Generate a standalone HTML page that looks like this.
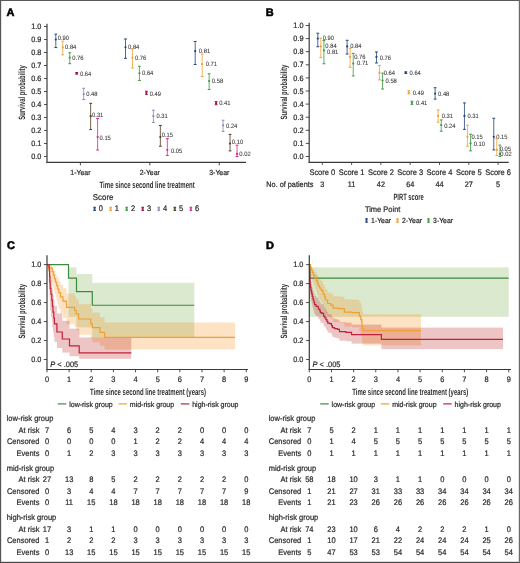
<!DOCTYPE html>
<html><head><meta charset="utf-8"><style>
html,body{margin:0;padding:0;background:#fff;}
svg{display:block;will-change:transform;}
svg text{font-family:"Liberation Sans", sans-serif;text-rendering:geometricPrecision;}
svg text.n{stroke:currentColor;}
</style></head><body>
<svg width="520" height="563" viewBox="0 0 520 563">
<rect width="520" height="563" fill="#fff"/>
<text x="6.60" y="15.80" font-size="11.00" text-anchor="start" fill="#000" font-weight="bold" stroke="#000" stroke-width="0.55" >A</text>
<line x1="47.00" y1="23.80" x2="47.00" y2="162.90" stroke="#3a3a3a" stroke-width="1.2" />
<line x1="46.40" y1="162.30" x2="246.00" y2="162.30" stroke="#3a3a3a" stroke-width="1.2" />
<line x1="44.00" y1="156.50" x2="47.00" y2="156.50" stroke="#3a3a3a" stroke-width="0.9" />
<text x="41.30" y="159.10" font-size="7.88" text-anchor="end" fill="#2a2a2a" font-weight="normal" stroke="#2a2a2a" stroke-width="0.22" textLength="10.15" lengthAdjust="spacingAndGlyphs" >0.0</text>
<line x1="44.00" y1="143.50" x2="47.00" y2="143.50" stroke="#3a3a3a" stroke-width="0.9" />
<text x="41.30" y="146.10" font-size="7.88" text-anchor="end" fill="#2a2a2a" font-weight="normal" stroke="#2a2a2a" stroke-width="0.22" textLength="10.15" lengthAdjust="spacingAndGlyphs" >0.1</text>
<line x1="44.00" y1="130.50" x2="47.00" y2="130.50" stroke="#3a3a3a" stroke-width="0.9" />
<text x="41.30" y="133.10" font-size="7.88" text-anchor="end" fill="#2a2a2a" font-weight="normal" stroke="#2a2a2a" stroke-width="0.22" textLength="10.15" lengthAdjust="spacingAndGlyphs" >0.2</text>
<line x1="44.00" y1="117.50" x2="47.00" y2="117.50" stroke="#3a3a3a" stroke-width="0.9" />
<text x="41.30" y="120.10" font-size="7.88" text-anchor="end" fill="#2a2a2a" font-weight="normal" stroke="#2a2a2a" stroke-width="0.22" textLength="10.15" lengthAdjust="spacingAndGlyphs" >0.3</text>
<line x1="44.00" y1="104.50" x2="47.00" y2="104.50" stroke="#3a3a3a" stroke-width="0.9" />
<text x="41.30" y="107.10" font-size="7.88" text-anchor="end" fill="#2a2a2a" font-weight="normal" stroke="#2a2a2a" stroke-width="0.22" textLength="10.15" lengthAdjust="spacingAndGlyphs" >0.4</text>
<line x1="44.00" y1="91.50" x2="47.00" y2="91.50" stroke="#3a3a3a" stroke-width="0.9" />
<text x="41.30" y="94.10" font-size="7.88" text-anchor="end" fill="#2a2a2a" font-weight="normal" stroke="#2a2a2a" stroke-width="0.22" textLength="10.15" lengthAdjust="spacingAndGlyphs" >0.5</text>
<line x1="44.00" y1="78.50" x2="47.00" y2="78.50" stroke="#3a3a3a" stroke-width="0.9" />
<text x="41.30" y="81.10" font-size="7.88" text-anchor="end" fill="#2a2a2a" font-weight="normal" stroke="#2a2a2a" stroke-width="0.22" textLength="10.15" lengthAdjust="spacingAndGlyphs" >0.6</text>
<line x1="44.00" y1="65.50" x2="47.00" y2="65.50" stroke="#3a3a3a" stroke-width="0.9" />
<text x="41.30" y="68.10" font-size="7.88" text-anchor="end" fill="#2a2a2a" font-weight="normal" stroke="#2a2a2a" stroke-width="0.22" textLength="10.15" lengthAdjust="spacingAndGlyphs" >0.7</text>
<line x1="44.00" y1="52.50" x2="47.00" y2="52.50" stroke="#3a3a3a" stroke-width="0.9" />
<text x="41.30" y="55.10" font-size="7.88" text-anchor="end" fill="#2a2a2a" font-weight="normal" stroke="#2a2a2a" stroke-width="0.22" textLength="10.15" lengthAdjust="spacingAndGlyphs" >0.8</text>
<line x1="44.00" y1="39.50" x2="47.00" y2="39.50" stroke="#3a3a3a" stroke-width="0.9" />
<text x="41.30" y="42.10" font-size="7.88" text-anchor="end" fill="#2a2a2a" font-weight="normal" stroke="#2a2a2a" stroke-width="0.22" textLength="10.15" lengthAdjust="spacingAndGlyphs" >0.9</text>
<line x1="44.00" y1="26.50" x2="47.00" y2="26.50" stroke="#3a3a3a" stroke-width="0.9" />
<text x="41.30" y="29.10" font-size="7.88" text-anchor="end" fill="#2a2a2a" font-weight="normal" stroke="#2a2a2a" stroke-width="0.22" textLength="10.15" lengthAdjust="spacingAndGlyphs" >1.0</text>
<line x1="80.40" y1="162.30" x2="80.40" y2="165.40" stroke="#3a3a3a" stroke-width="0.9" />
<text x="80.40" y="175.00" font-size="7.45" text-anchor="middle" fill="#2a2a2a" font-weight="normal" stroke="#2a2a2a" stroke-width="0.22" textLength="20.08" lengthAdjust="spacingAndGlyphs" >1-Year</text>
<line x1="149.80" y1="162.30" x2="149.80" y2="165.40" stroke="#3a3a3a" stroke-width="0.9" />
<text x="149.80" y="175.00" font-size="7.45" text-anchor="middle" fill="#2a2a2a" font-weight="normal" stroke="#2a2a2a" stroke-width="0.22" textLength="20.08" lengthAdjust="spacingAndGlyphs" >2-Year</text>
<line x1="219.30" y1="162.30" x2="219.30" y2="165.40" stroke="#3a3a3a" stroke-width="0.9" />
<text x="219.30" y="175.00" font-size="7.45" text-anchor="middle" fill="#2a2a2a" font-weight="normal" stroke="#2a2a2a" stroke-width="0.22" textLength="20.08" lengthAdjust="spacingAndGlyphs" >3-Year</text>
<text x="99.50" y="187.80" font-size="9.2" text-anchor="start" fill="#303030" font-weight="bold" textLength="95.2" lengthAdjust="spacingAndGlyphs">Time since second line treatment</text>
<text x="24.60" y="92.50" font-size="9.2" text-anchor="middle" fill="#303030" font-weight="bold" textLength="54.6" lengthAdjust="spacingAndGlyphs" transform="rotate(-90 24.60 92.50)">Survival probability</text>
<line x1="55.80" y1="34.17" x2="55.80" y2="47.56" stroke="#23457a" stroke-width="1.0" stroke-opacity="0.8"/>
<line x1="54.40" y1="34.17" x2="57.20" y2="34.17" stroke="#23457a" stroke-width="1.0"/>
<line x1="54.40" y1="47.56" x2="57.20" y2="47.56" stroke="#23457a" stroke-width="1.0"/>
<circle cx="55.80" cy="39.50" r="1.1" fill="#23457a"/>
<text x="57.75" y="40.45" font-size="6.26" text-anchor="start" fill="#3a3a3a" font-weight="normal" stroke="#3a3a3a" stroke-width="0.08" textLength="11.29" lengthAdjust="spacingAndGlyphs" >0.90</text>
<line x1="62.77" y1="41.19" x2="62.77" y2="54.84" stroke="#eea237" stroke-width="1.0" stroke-opacity="0.8"/>
<line x1="61.37" y1="41.19" x2="64.17" y2="41.19" stroke="#eea237" stroke-width="1.0"/>
<line x1="61.37" y1="54.84" x2="64.17" y2="54.84" stroke="#eea237" stroke-width="1.0"/>
<circle cx="62.77" cy="47.30" r="1.1" fill="#eea237"/>
<text x="65.05" y="48.95" font-size="6.26" text-anchor="start" fill="#3a3a3a" font-weight="normal" stroke="#3a3a3a" stroke-width="0.08" textLength="11.29" lengthAdjust="spacingAndGlyphs" >0.84</text>
<line x1="69.74" y1="52.76" x2="69.74" y2="63.68" stroke="#3f9a3f" stroke-width="1.0" stroke-opacity="0.8"/>
<line x1="68.34" y1="52.76" x2="71.14" y2="52.76" stroke="#3f9a3f" stroke-width="1.0"/>
<line x1="68.34" y1="63.68" x2="71.14" y2="63.68" stroke="#3f9a3f" stroke-width="1.0"/>
<circle cx="69.74" cy="57.70" r="1.1" fill="#3f9a3f"/>
<text x="72.25" y="60.25" font-size="6.26" text-anchor="start" fill="#3a3a3a" font-weight="normal" stroke="#3a3a3a" stroke-width="0.08" textLength="11.29" lengthAdjust="spacingAndGlyphs" >0.76</text>
<line x1="76.71" y1="72.52" x2="76.71" y2="74.08" stroke="#a30f38" stroke-width="1.0" stroke-opacity="0.8"/>
<line x1="75.31" y1="72.52" x2="78.11" y2="72.52" stroke="#a30f38" stroke-width="1.0"/>
<line x1="75.31" y1="74.08" x2="78.11" y2="74.08" stroke="#a30f38" stroke-width="1.0"/>
<circle cx="76.71" cy="73.30" r="1.1" fill="#a30f38"/>
<text x="79.95" y="76.05" font-size="6.26" text-anchor="start" fill="#3a3a3a" font-weight="normal" stroke="#3a3a3a" stroke-width="0.08" textLength="11.29" lengthAdjust="spacingAndGlyphs" >0.64</text>
<line x1="83.68" y1="88.25" x2="83.68" y2="99.56" stroke="#8888bb" stroke-width="1.0" stroke-opacity="0.8"/>
<line x1="82.28" y1="88.25" x2="85.08" y2="88.25" stroke="#8888bb" stroke-width="1.0"/>
<line x1="82.28" y1="99.56" x2="85.08" y2="99.56" stroke="#8888bb" stroke-width="1.0"/>
<circle cx="83.68" cy="94.10" r="1.1" fill="#8888bb"/>
<text x="86.25" y="96.25" font-size="6.26" text-anchor="start" fill="#3a3a3a" font-weight="normal" stroke="#3a3a3a" stroke-width="0.08" textLength="11.29" lengthAdjust="spacingAndGlyphs" >0.48</text>
<line x1="90.65" y1="103.33" x2="90.65" y2="129.59" stroke="#4f3c22" stroke-width="1.0" stroke-opacity="0.8"/>
<line x1="89.25" y1="103.33" x2="92.05" y2="103.33" stroke="#4f3c22" stroke-width="1.0"/>
<line x1="89.25" y1="129.59" x2="92.05" y2="129.59" stroke="#4f3c22" stroke-width="1.0"/>
<circle cx="90.65" cy="116.20" r="1.1" fill="#4f3c22"/>
<text x="92.05" y="116.75" font-size="6.26" text-anchor="start" fill="#3a3a3a" font-weight="normal" stroke="#3a3a3a" stroke-width="0.08" textLength="11.29" lengthAdjust="spacingAndGlyphs" >0.31</text>
<line x1="97.62" y1="118.54" x2="97.62" y2="150.00" stroke="#d6288c" stroke-width="1.0" stroke-opacity="0.8"/>
<line x1="96.22" y1="118.54" x2="99.02" y2="118.54" stroke="#d6288c" stroke-width="1.0"/>
<line x1="96.22" y1="150.00" x2="99.02" y2="150.00" stroke="#d6288c" stroke-width="1.0"/>
<circle cx="97.62" cy="137.00" r="1.1" fill="#d6288c"/>
<text x="99.55" y="139.65" font-size="6.26" text-anchor="start" fill="#3a3a3a" font-weight="normal" stroke="#3a3a3a" stroke-width="0.08" textLength="11.29" lengthAdjust="spacingAndGlyphs" >0.15</text>
<line x1="125.50" y1="38.98" x2="125.50" y2="58.35" stroke="#23457a" stroke-width="1.0" stroke-opacity="0.8"/>
<line x1="124.10" y1="38.98" x2="126.90" y2="38.98" stroke="#23457a" stroke-width="1.0"/>
<line x1="124.10" y1="58.35" x2="126.90" y2="58.35" stroke="#23457a" stroke-width="1.0"/>
<circle cx="125.50" cy="47.30" r="1.1" fill="#23457a"/>
<text x="128.05" y="48.85" font-size="6.26" text-anchor="start" fill="#3a3a3a" font-weight="normal" stroke="#3a3a3a" stroke-width="0.08" textLength="11.29" lengthAdjust="spacingAndGlyphs" >0.84</text>
<line x1="132.47" y1="48.99" x2="132.47" y2="67.97" stroke="#eea237" stroke-width="1.0" stroke-opacity="0.8"/>
<line x1="131.07" y1="48.99" x2="133.87" y2="48.99" stroke="#eea237" stroke-width="1.0"/>
<line x1="131.07" y1="67.97" x2="133.87" y2="67.97" stroke="#eea237" stroke-width="1.0"/>
<circle cx="132.47" cy="57.70" r="1.1" fill="#eea237"/>
<text x="134.95" y="59.85" font-size="6.26" text-anchor="start" fill="#3a3a3a" font-weight="normal" stroke="#3a3a3a" stroke-width="0.08" textLength="11.29" lengthAdjust="spacingAndGlyphs" >0.76</text>
<line x1="139.44" y1="66.28" x2="139.44" y2="80.45" stroke="#3f9a3f" stroke-width="1.0" stroke-opacity="0.8"/>
<line x1="138.04" y1="66.28" x2="140.84" y2="66.28" stroke="#3f9a3f" stroke-width="1.0"/>
<line x1="138.04" y1="80.45" x2="140.84" y2="80.45" stroke="#3f9a3f" stroke-width="1.0"/>
<circle cx="139.44" cy="73.30" r="1.1" fill="#3f9a3f"/>
<text x="142.05" y="75.45" font-size="6.26" text-anchor="start" fill="#3a3a3a" font-weight="normal" stroke="#3a3a3a" stroke-width="0.08" textLength="11.29" lengthAdjust="spacingAndGlyphs" >0.64</text>
<line x1="146.41" y1="91.24" x2="146.41" y2="94.36" stroke="#a30f38" stroke-width="1.0" stroke-opacity="0.8"/>
<line x1="145.01" y1="91.24" x2="147.81" y2="91.24" stroke="#a30f38" stroke-width="1.0"/>
<line x1="145.01" y1="94.36" x2="147.81" y2="94.36" stroke="#a30f38" stroke-width="1.0"/>
<circle cx="146.41" cy="92.80" r="1.1" fill="#a30f38"/>
<text x="149.75" y="95.55" font-size="6.26" text-anchor="start" fill="#3a3a3a" font-weight="normal" stroke="#3a3a3a" stroke-width="0.08" textLength="11.29" lengthAdjust="spacingAndGlyphs" >0.49</text>
<line x1="153.38" y1="110.22" x2="153.38" y2="122.44" stroke="#8888bb" stroke-width="1.0" stroke-opacity="0.8"/>
<line x1="151.98" y1="110.22" x2="154.78" y2="110.22" stroke="#8888bb" stroke-width="1.0"/>
<line x1="151.98" y1="122.44" x2="154.78" y2="122.44" stroke="#8888bb" stroke-width="1.0"/>
<circle cx="153.38" cy="116.20" r="1.1" fill="#8888bb"/>
<text x="156.45" y="118.15" font-size="6.26" text-anchor="start" fill="#3a3a3a" font-weight="normal" stroke="#3a3a3a" stroke-width="0.08" textLength="11.29" lengthAdjust="spacingAndGlyphs" >0.31</text>
<line x1="160.35" y1="125.43" x2="160.35" y2="146.23" stroke="#4f3c22" stroke-width="1.0" stroke-opacity="0.8"/>
<line x1="158.95" y1="125.43" x2="161.75" y2="125.43" stroke="#4f3c22" stroke-width="1.0"/>
<line x1="158.95" y1="146.23" x2="161.75" y2="146.23" stroke="#4f3c22" stroke-width="1.0"/>
<circle cx="160.35" cy="137.00" r="1.1" fill="#4f3c22"/>
<text x="161.75" y="136.95" font-size="6.26" text-anchor="start" fill="#3a3a3a" font-weight="normal" stroke="#3a3a3a" stroke-width="0.08" textLength="11.29" lengthAdjust="spacingAndGlyphs" >0.15</text>
<line x1="167.32" y1="138.69" x2="167.32" y2="155.46" stroke="#d6288c" stroke-width="1.0" stroke-opacity="0.8"/>
<line x1="165.92" y1="138.69" x2="168.72" y2="138.69" stroke="#d6288c" stroke-width="1.0"/>
<line x1="165.92" y1="155.46" x2="168.72" y2="155.46" stroke="#d6288c" stroke-width="1.0"/>
<circle cx="167.32" cy="150.00" r="1.1" fill="#d6288c"/>
<text x="170.95" y="152.65" font-size="6.26" text-anchor="start" fill="#3a3a3a" font-weight="normal" stroke="#3a3a3a" stroke-width="0.08" textLength="11.29" lengthAdjust="spacingAndGlyphs" >0.05</text>
<line x1="195.20" y1="41.45" x2="195.20" y2="64.46" stroke="#23457a" stroke-width="1.0" stroke-opacity="0.8"/>
<line x1="193.80" y1="41.45" x2="196.60" y2="41.45" stroke="#23457a" stroke-width="1.0"/>
<line x1="193.80" y1="64.46" x2="196.60" y2="64.46" stroke="#23457a" stroke-width="1.0"/>
<circle cx="195.20" cy="51.20" r="1.1" fill="#23457a"/>
<text x="198.85" y="53.25" font-size="6.26" text-anchor="start" fill="#3a3a3a" font-weight="normal" stroke="#3a3a3a" stroke-width="0.08" textLength="11.29" lengthAdjust="spacingAndGlyphs" >0.81</text>
<line x1="202.17" y1="54.19" x2="202.17" y2="76.55" stroke="#eea237" stroke-width="1.0" stroke-opacity="0.8"/>
<line x1="200.77" y1="54.19" x2="203.57" y2="54.19" stroke="#eea237" stroke-width="1.0"/>
<line x1="200.77" y1="76.55" x2="203.57" y2="76.55" stroke="#eea237" stroke-width="1.0"/>
<circle cx="202.17" cy="64.20" r="1.1" fill="#eea237"/>
<text x="205.75" y="66.15" font-size="6.26" text-anchor="start" fill="#3a3a3a" font-weight="normal" stroke="#3a3a3a" stroke-width="0.08" textLength="11.29" lengthAdjust="spacingAndGlyphs" >0.71</text>
<line x1="209.14" y1="73.82" x2="209.14" y2="89.55" stroke="#3f9a3f" stroke-width="1.0" stroke-opacity="0.8"/>
<line x1="207.74" y1="73.82" x2="210.54" y2="73.82" stroke="#3f9a3f" stroke-width="1.0"/>
<line x1="207.74" y1="89.55" x2="210.54" y2="89.55" stroke="#3f9a3f" stroke-width="1.0"/>
<circle cx="209.14" cy="81.10" r="1.1" fill="#3f9a3f"/>
<text x="211.85" y="83.45" font-size="6.26" text-anchor="start" fill="#3a3a3a" font-weight="normal" stroke="#3a3a3a" stroke-width="0.08" textLength="11.29" lengthAdjust="spacingAndGlyphs" >0.58</text>
<line x1="216.11" y1="101.64" x2="216.11" y2="104.76" stroke="#a30f38" stroke-width="1.0" stroke-opacity="0.8"/>
<line x1="214.71" y1="101.64" x2="217.51" y2="101.64" stroke="#a30f38" stroke-width="1.0"/>
<line x1="214.71" y1="104.76" x2="217.51" y2="104.76" stroke="#a30f38" stroke-width="1.0"/>
<circle cx="216.11" cy="103.20" r="1.1" fill="#a30f38"/>
<text x="219.15" y="105.35" font-size="6.26" text-anchor="start" fill="#3a3a3a" font-weight="normal" stroke="#3a3a3a" stroke-width="0.08" textLength="11.29" lengthAdjust="spacingAndGlyphs" >0.41</text>
<line x1="223.08" y1="120.23" x2="223.08" y2="131.41" stroke="#8888bb" stroke-width="1.0" stroke-opacity="0.8"/>
<line x1="221.68" y1="120.23" x2="224.48" y2="120.23" stroke="#8888bb" stroke-width="1.0"/>
<line x1="221.68" y1="131.41" x2="224.48" y2="131.41" stroke="#8888bb" stroke-width="1.0"/>
<circle cx="223.08" cy="125.30" r="1.1" fill="#8888bb"/>
<text x="226.05" y="128.15" font-size="6.26" text-anchor="start" fill="#3a3a3a" font-weight="normal" stroke="#3a3a3a" stroke-width="0.08" textLength="11.29" lengthAdjust="spacingAndGlyphs" >0.24</text>
<line x1="230.05" y1="134.40" x2="230.05" y2="150.91" stroke="#4f3c22" stroke-width="1.0" stroke-opacity="0.8"/>
<line x1="228.65" y1="134.40" x2="231.45" y2="134.40" stroke="#4f3c22" stroke-width="1.0"/>
<line x1="228.65" y1="150.91" x2="231.45" y2="150.91" stroke="#4f3c22" stroke-width="1.0"/>
<circle cx="230.05" cy="143.50" r="1.1" fill="#4f3c22"/>
<text x="231.85" y="144.05" font-size="6.26" text-anchor="start" fill="#3a3a3a" font-weight="normal" stroke="#3a3a3a" stroke-width="0.08" textLength="11.29" lengthAdjust="spacingAndGlyphs" >0.10</text>
<line x1="237.02" y1="145.19" x2="237.02" y2="156.50" stroke="#d6288c" stroke-width="1.0" stroke-opacity="0.8"/>
<line x1="235.62" y1="145.19" x2="238.42" y2="145.19" stroke="#d6288c" stroke-width="1.0"/>
<line x1="235.62" y1="156.50" x2="238.42" y2="156.50" stroke="#d6288c" stroke-width="1.0"/>
<circle cx="237.02" cy="153.90" r="1.1" fill="#d6288c"/>
<text x="239.35" y="156.15" font-size="6.26" text-anchor="start" fill="#3a3a3a" font-weight="normal" stroke="#3a3a3a" stroke-width="0.08" textLength="11.29" lengthAdjust="spacingAndGlyphs" >0.02</text>
<text x="92.80" y="200.30" font-size="8.53" text-anchor="start" fill="#2a2a2a" font-weight="normal" stroke="#2a2a2a" stroke-width="0.22" textLength="20.64" lengthAdjust="spacingAndGlyphs" >Score</text>
<rect x="93.40" y="206.90" width="2.4" height="4.00" fill="#23457a" fill-opacity="0.55"/>
<line x1="93.30" y1="207.30" x2="95.90" y2="207.30" stroke="#23457a" stroke-width="0.8"/>
<line x1="93.30" y1="210.50" x2="95.90" y2="210.50" stroke="#23457a" stroke-width="0.8"/>
<line x1="94.60" y1="206.90" x2="94.60" y2="210.90" stroke="#23457a" stroke-width="1.0"/>
<text x="98.80" y="211.30" font-size="8.10" text-anchor="start" fill="#2a2a2a" font-weight="normal" stroke="#2a2a2a" stroke-width="0.22" textLength="4.17" lengthAdjust="spacingAndGlyphs" >0</text>
<rect x="109.45" y="206.90" width="2.4" height="4.00" fill="#eea237" fill-opacity="0.55"/>
<line x1="109.35" y1="207.30" x2="111.95" y2="207.30" stroke="#eea237" stroke-width="0.8"/>
<line x1="109.35" y1="210.50" x2="111.95" y2="210.50" stroke="#eea237" stroke-width="0.8"/>
<line x1="110.65" y1="206.90" x2="110.65" y2="210.90" stroke="#eea237" stroke-width="1.0"/>
<text x="114.85" y="211.30" font-size="8.10" text-anchor="start" fill="#2a2a2a" font-weight="normal" stroke="#2a2a2a" stroke-width="0.22" textLength="4.17" lengthAdjust="spacingAndGlyphs" >1</text>
<rect x="125.50" y="206.90" width="2.4" height="4.00" fill="#3f9a3f" fill-opacity="0.55"/>
<line x1="125.40" y1="207.30" x2="128.00" y2="207.30" stroke="#3f9a3f" stroke-width="0.8"/>
<line x1="125.40" y1="210.50" x2="128.00" y2="210.50" stroke="#3f9a3f" stroke-width="0.8"/>
<line x1="126.70" y1="206.90" x2="126.70" y2="210.90" stroke="#3f9a3f" stroke-width="1.0"/>
<text x="130.90" y="211.30" font-size="8.10" text-anchor="start" fill="#2a2a2a" font-weight="normal" stroke="#2a2a2a" stroke-width="0.22" textLength="4.17" lengthAdjust="spacingAndGlyphs" >2</text>
<rect x="141.55" y="206.90" width="2.4" height="4.00" fill="#a30f38" fill-opacity="0.55"/>
<line x1="141.45" y1="207.30" x2="144.05" y2="207.30" stroke="#a30f38" stroke-width="0.8"/>
<line x1="141.45" y1="210.50" x2="144.05" y2="210.50" stroke="#a30f38" stroke-width="0.8"/>
<line x1="142.75" y1="206.90" x2="142.75" y2="210.90" stroke="#a30f38" stroke-width="1.0"/>
<text x="146.95" y="211.30" font-size="8.10" text-anchor="start" fill="#2a2a2a" font-weight="normal" stroke="#2a2a2a" stroke-width="0.22" textLength="4.17" lengthAdjust="spacingAndGlyphs" >3</text>
<rect x="157.60" y="206.90" width="2.4" height="4.00" fill="#8888bb" fill-opacity="0.55"/>
<line x1="157.50" y1="207.30" x2="160.10" y2="207.30" stroke="#8888bb" stroke-width="0.8"/>
<line x1="157.50" y1="210.50" x2="160.10" y2="210.50" stroke="#8888bb" stroke-width="0.8"/>
<line x1="158.80" y1="206.90" x2="158.80" y2="210.90" stroke="#8888bb" stroke-width="1.0"/>
<text x="163.00" y="211.30" font-size="8.10" text-anchor="start" fill="#2a2a2a" font-weight="normal" stroke="#2a2a2a" stroke-width="0.22" textLength="4.17" lengthAdjust="spacingAndGlyphs" >4</text>
<rect x="173.65" y="206.90" width="2.4" height="4.00" fill="#4f3c22" fill-opacity="0.55"/>
<line x1="173.55" y1="207.30" x2="176.15" y2="207.30" stroke="#4f3c22" stroke-width="0.8"/>
<line x1="173.55" y1="210.50" x2="176.15" y2="210.50" stroke="#4f3c22" stroke-width="0.8"/>
<line x1="174.85" y1="206.90" x2="174.85" y2="210.90" stroke="#4f3c22" stroke-width="1.0"/>
<text x="179.05" y="211.30" font-size="8.10" text-anchor="start" fill="#2a2a2a" font-weight="normal" stroke="#2a2a2a" stroke-width="0.22" textLength="4.17" lengthAdjust="spacingAndGlyphs" >5</text>
<rect x="189.70" y="206.90" width="2.4" height="4.00" fill="#d6288c" fill-opacity="0.55"/>
<line x1="189.60" y1="207.30" x2="192.20" y2="207.30" stroke="#d6288c" stroke-width="0.8"/>
<line x1="189.60" y1="210.50" x2="192.20" y2="210.50" stroke="#d6288c" stroke-width="0.8"/>
<line x1="190.90" y1="206.90" x2="190.90" y2="210.90" stroke="#d6288c" stroke-width="1.0"/>
<text x="195.10" y="211.30" font-size="8.10" text-anchor="start" fill="#2a2a2a" font-weight="normal" stroke="#2a2a2a" stroke-width="0.22" textLength="4.17" lengthAdjust="spacingAndGlyphs" >6</text>
<text x="265.80" y="16.20" font-size="11.00" text-anchor="start" fill="#000" font-weight="bold" stroke="#000" stroke-width="0.55" >B</text>
<line x1="309.20" y1="22.80" x2="309.20" y2="162.80" stroke="#3a3a3a" stroke-width="1.2" />
<line x1="308.60" y1="162.30" x2="508.70" y2="162.30" stroke="#3a3a3a" stroke-width="1.2" />
<line x1="305.80" y1="156.50" x2="309.20" y2="156.50" stroke="#3a3a3a" stroke-width="0.9" />
<text x="303.50" y="159.10" font-size="7.88" text-anchor="end" fill="#2a2a2a" font-weight="normal" stroke="#2a2a2a" stroke-width="0.22" textLength="10.15" lengthAdjust="spacingAndGlyphs" >0.0</text>
<line x1="305.80" y1="143.40" x2="309.20" y2="143.40" stroke="#3a3a3a" stroke-width="0.9" />
<text x="303.50" y="146.00" font-size="7.88" text-anchor="end" fill="#2a2a2a" font-weight="normal" stroke="#2a2a2a" stroke-width="0.22" textLength="10.15" lengthAdjust="spacingAndGlyphs" >0.1</text>
<line x1="305.80" y1="130.30" x2="309.20" y2="130.30" stroke="#3a3a3a" stroke-width="0.9" />
<text x="303.50" y="132.90" font-size="7.88" text-anchor="end" fill="#2a2a2a" font-weight="normal" stroke="#2a2a2a" stroke-width="0.22" textLength="10.15" lengthAdjust="spacingAndGlyphs" >0.2</text>
<line x1="305.80" y1="117.20" x2="309.20" y2="117.20" stroke="#3a3a3a" stroke-width="0.9" />
<text x="303.50" y="119.80" font-size="7.88" text-anchor="end" fill="#2a2a2a" font-weight="normal" stroke="#2a2a2a" stroke-width="0.22" textLength="10.15" lengthAdjust="spacingAndGlyphs" >0.3</text>
<line x1="305.80" y1="104.10" x2="309.20" y2="104.10" stroke="#3a3a3a" stroke-width="0.9" />
<text x="303.50" y="106.70" font-size="7.88" text-anchor="end" fill="#2a2a2a" font-weight="normal" stroke="#2a2a2a" stroke-width="0.22" textLength="10.15" lengthAdjust="spacingAndGlyphs" >0.4</text>
<line x1="305.80" y1="91.00" x2="309.20" y2="91.00" stroke="#3a3a3a" stroke-width="0.9" />
<text x="303.50" y="93.60" font-size="7.88" text-anchor="end" fill="#2a2a2a" font-weight="normal" stroke="#2a2a2a" stroke-width="0.22" textLength="10.15" lengthAdjust="spacingAndGlyphs" >0.5</text>
<line x1="305.80" y1="77.90" x2="309.20" y2="77.90" stroke="#3a3a3a" stroke-width="0.9" />
<text x="303.50" y="80.50" font-size="7.88" text-anchor="end" fill="#2a2a2a" font-weight="normal" stroke="#2a2a2a" stroke-width="0.22" textLength="10.15" lengthAdjust="spacingAndGlyphs" >0.6</text>
<line x1="305.80" y1="64.80" x2="309.20" y2="64.80" stroke="#3a3a3a" stroke-width="0.9" />
<text x="303.50" y="67.40" font-size="7.88" text-anchor="end" fill="#2a2a2a" font-weight="normal" stroke="#2a2a2a" stroke-width="0.22" textLength="10.15" lengthAdjust="spacingAndGlyphs" >0.7</text>
<line x1="305.80" y1="51.70" x2="309.20" y2="51.70" stroke="#3a3a3a" stroke-width="0.9" />
<text x="303.50" y="54.30" font-size="7.88" text-anchor="end" fill="#2a2a2a" font-weight="normal" stroke="#2a2a2a" stroke-width="0.22" textLength="10.15" lengthAdjust="spacingAndGlyphs" >0.8</text>
<line x1="305.80" y1="38.60" x2="309.20" y2="38.60" stroke="#3a3a3a" stroke-width="0.9" />
<text x="303.50" y="41.20" font-size="7.88" text-anchor="end" fill="#2a2a2a" font-weight="normal" stroke="#2a2a2a" stroke-width="0.22" textLength="10.15" lengthAdjust="spacingAndGlyphs" >0.9</text>
<line x1="305.80" y1="25.50" x2="309.20" y2="25.50" stroke="#3a3a3a" stroke-width="0.9" />
<text x="303.50" y="28.10" font-size="7.88" text-anchor="end" fill="#2a2a2a" font-weight="normal" stroke="#2a2a2a" stroke-width="0.22" textLength="10.15" lengthAdjust="spacingAndGlyphs" >1.0</text>
<line x1="322.30" y1="162.20" x2="322.30" y2="164.90" stroke="#3a3a3a" stroke-width="0.9" />
<text x="322.30" y="175.20" font-size="8.10" text-anchor="middle" fill="#2a2a2a" font-weight="normal" stroke="#2a2a2a" stroke-width="0.22" textLength="25.85" lengthAdjust="spacingAndGlyphs" >Score 0</text>
<line x1="351.60" y1="162.20" x2="351.60" y2="164.90" stroke="#3a3a3a" stroke-width="0.9" />
<text x="351.60" y="175.20" font-size="8.10" text-anchor="middle" fill="#2a2a2a" font-weight="normal" stroke="#2a2a2a" stroke-width="0.22" textLength="25.85" lengthAdjust="spacingAndGlyphs" >Score 1</text>
<line x1="380.90" y1="162.20" x2="380.90" y2="164.90" stroke="#3a3a3a" stroke-width="0.9" />
<text x="380.90" y="175.20" font-size="8.10" text-anchor="middle" fill="#2a2a2a" font-weight="normal" stroke="#2a2a2a" stroke-width="0.22" textLength="25.85" lengthAdjust="spacingAndGlyphs" >Score 2</text>
<line x1="410.20" y1="162.20" x2="410.20" y2="164.90" stroke="#3a3a3a" stroke-width="0.9" />
<text x="410.20" y="175.20" font-size="8.10" text-anchor="middle" fill="#2a2a2a" font-weight="normal" stroke="#2a2a2a" stroke-width="0.22" textLength="25.85" lengthAdjust="spacingAndGlyphs" >Score 3</text>
<line x1="439.50" y1="162.20" x2="439.50" y2="164.90" stroke="#3a3a3a" stroke-width="0.9" />
<text x="439.50" y="175.20" font-size="8.10" text-anchor="middle" fill="#2a2a2a" font-weight="normal" stroke="#2a2a2a" stroke-width="0.22" textLength="25.85" lengthAdjust="spacingAndGlyphs" >Score 4</text>
<line x1="468.80" y1="162.20" x2="468.80" y2="164.90" stroke="#3a3a3a" stroke-width="0.9" />
<text x="468.80" y="175.20" font-size="8.10" text-anchor="middle" fill="#2a2a2a" font-weight="normal" stroke="#2a2a2a" stroke-width="0.22" textLength="25.85" lengthAdjust="spacingAndGlyphs" >Score 5</text>
<line x1="498.10" y1="162.20" x2="498.10" y2="164.90" stroke="#3a3a3a" stroke-width="0.9" />
<text x="498.10" y="175.20" font-size="8.10" text-anchor="middle" fill="#2a2a2a" font-weight="normal" stroke="#2a2a2a" stroke-width="0.22" textLength="25.85" lengthAdjust="spacingAndGlyphs" >Score 6</text>
<text x="266.30" y="187.00" font-size="7.88" text-anchor="start" fill="#2a2a2a" font-weight="normal" stroke="#2a2a2a" stroke-width="0.22" textLength="47.07" lengthAdjust="spacingAndGlyphs" >No. of patients</text>
<text x="322.30" y="187.00" font-size="7.88" text-anchor="middle" fill="#2a2a2a" font-weight="normal" stroke="#2a2a2a" stroke-width="0.22" textLength="4.06" lengthAdjust="spacingAndGlyphs" >3</text>
<text x="351.60" y="187.00" font-size="7.88" text-anchor="middle" fill="#2a2a2a" font-weight="normal" stroke="#2a2a2a" stroke-width="0.22" textLength="7.58" lengthAdjust="spacingAndGlyphs" >11</text>
<text x="380.90" y="187.00" font-size="7.88" text-anchor="middle" fill="#2a2a2a" font-weight="normal" stroke="#2a2a2a" stroke-width="0.22" textLength="8.12" lengthAdjust="spacingAndGlyphs" >42</text>
<text x="410.20" y="187.00" font-size="7.88" text-anchor="middle" fill="#2a2a2a" font-weight="normal" stroke="#2a2a2a" stroke-width="0.22" textLength="8.12" lengthAdjust="spacingAndGlyphs" >64</text>
<text x="439.50" y="187.00" font-size="7.88" text-anchor="middle" fill="#2a2a2a" font-weight="normal" stroke="#2a2a2a" stroke-width="0.22" textLength="8.12" lengthAdjust="spacingAndGlyphs" >44</text>
<text x="468.80" y="187.00" font-size="7.88" text-anchor="middle" fill="#2a2a2a" font-weight="normal" stroke="#2a2a2a" stroke-width="0.22" textLength="8.12" lengthAdjust="spacingAndGlyphs" >27</text>
<text x="498.10" y="187.00" font-size="7.88" text-anchor="middle" fill="#2a2a2a" font-weight="normal" stroke="#2a2a2a" stroke-width="0.22" textLength="4.06" lengthAdjust="spacingAndGlyphs" >5</text>
<text x="393.50" y="199.50" font-size="9.1" text-anchor="start" fill="#303030" font-weight="bold" textLength="30.2" lengthAdjust="spacingAndGlyphs">PIRT score</text>
<text x="286.90" y="92.10" font-size="9.2" text-anchor="middle" fill="#303030" font-weight="bold" textLength="54.7" lengthAdjust="spacingAndGlyphs" transform="rotate(-90 286.90 92.10)">Survival probability</text>
<line x1="317.80" y1="33.23" x2="317.80" y2="46.72" stroke="#23457a" stroke-width="1.0" stroke-opacity="0.8"/>
<line x1="316.40" y1="33.23" x2="319.20" y2="33.23" stroke="#23457a" stroke-width="1.0"/>
<line x1="316.40" y1="46.72" x2="319.20" y2="46.72" stroke="#23457a" stroke-width="1.0"/>
<circle cx="317.80" cy="38.60" r="1.1" fill="#23457a"/>
<text x="322.65" y="40.45" font-size="6.26" text-anchor="start" fill="#3a3a3a" font-weight="normal" stroke="#3a3a3a" stroke-width="0.08" textLength="11.29" lengthAdjust="spacingAndGlyphs" >0.90</text>
<line x1="320.80" y1="38.08" x2="320.80" y2="57.59" stroke="#eea237" stroke-width="1.0" stroke-opacity="0.8"/>
<line x1="319.40" y1="38.08" x2="322.20" y2="38.08" stroke="#eea237" stroke-width="1.0"/>
<line x1="319.40" y1="57.59" x2="322.20" y2="57.59" stroke="#eea237" stroke-width="1.0"/>
<circle cx="320.80" cy="46.46" r="1.1" fill="#eea237"/>
<text x="325.35" y="47.65" font-size="6.26" text-anchor="start" fill="#3a3a3a" font-weight="normal" stroke="#3a3a3a" stroke-width="0.08" textLength="11.29" lengthAdjust="spacingAndGlyphs" >0.84</text>
<line x1="323.90" y1="40.56" x2="323.90" y2="63.75" stroke="#3f9a3f" stroke-width="1.0" stroke-opacity="0.8"/>
<line x1="322.50" y1="40.56" x2="325.30" y2="40.56" stroke="#3f9a3f" stroke-width="1.0"/>
<line x1="322.50" y1="63.75" x2="325.30" y2="63.75" stroke="#3f9a3f" stroke-width="1.0"/>
<circle cx="323.90" cy="50.39" r="1.1" fill="#3f9a3f"/>
<text x="327.05" y="53.65" font-size="6.26" text-anchor="start" fill="#3a3a3a" font-weight="normal" stroke="#3a3a3a" stroke-width="0.08" textLength="11.29" lengthAdjust="spacingAndGlyphs" >0.81</text>
<line x1="347.13" y1="40.30" x2="347.13" y2="54.06" stroke="#23457a" stroke-width="1.0" stroke-opacity="0.8"/>
<line x1="345.73" y1="40.30" x2="348.53" y2="40.30" stroke="#23457a" stroke-width="1.0"/>
<line x1="345.73" y1="54.06" x2="348.53" y2="54.06" stroke="#23457a" stroke-width="1.0"/>
<circle cx="347.13" cy="46.46" r="1.1" fill="#23457a"/>
<text x="350.15" y="47.95" font-size="6.26" text-anchor="start" fill="#3a3a3a" font-weight="normal" stroke="#3a3a3a" stroke-width="0.08" textLength="11.29" lengthAdjust="spacingAndGlyphs" >0.84</text>
<line x1="350.13" y1="48.16" x2="350.13" y2="67.29" stroke="#eea237" stroke-width="1.0" stroke-opacity="0.8"/>
<line x1="348.73" y1="48.16" x2="351.53" y2="48.16" stroke="#eea237" stroke-width="1.0"/>
<line x1="348.73" y1="67.29" x2="351.53" y2="67.29" stroke="#eea237" stroke-width="1.0"/>
<circle cx="350.13" cy="56.94" r="1.1" fill="#eea237"/>
<text x="354.15" y="59.45" font-size="6.26" text-anchor="start" fill="#3a3a3a" font-weight="normal" stroke="#3a3a3a" stroke-width="0.08" textLength="11.29" lengthAdjust="spacingAndGlyphs" >0.76</text>
<line x1="353.23" y1="53.40" x2="353.23" y2="75.94" stroke="#3f9a3f" stroke-width="1.0" stroke-opacity="0.8"/>
<line x1="351.83" y1="53.40" x2="354.63" y2="53.40" stroke="#3f9a3f" stroke-width="1.0"/>
<line x1="351.83" y1="75.94" x2="354.63" y2="75.94" stroke="#3f9a3f" stroke-width="1.0"/>
<circle cx="353.23" cy="63.49" r="1.1" fill="#3f9a3f"/>
<text x="357.05" y="65.25" font-size="6.26" text-anchor="start" fill="#3a3a3a" font-weight="normal" stroke="#3a3a3a" stroke-width="0.08" textLength="11.29" lengthAdjust="spacingAndGlyphs" >0.71</text>
<line x1="376.46" y1="51.96" x2="376.46" y2="62.97" stroke="#23457a" stroke-width="1.0" stroke-opacity="0.8"/>
<line x1="375.06" y1="51.96" x2="377.86" y2="51.96" stroke="#23457a" stroke-width="1.0"/>
<line x1="375.06" y1="62.97" x2="377.86" y2="62.97" stroke="#23457a" stroke-width="1.0"/>
<circle cx="376.46" cy="56.94" r="1.1" fill="#23457a"/>
<text x="379.75" y="60.05" font-size="6.26" text-anchor="start" fill="#3a3a3a" font-weight="normal" stroke="#3a3a3a" stroke-width="0.08" textLength="11.29" lengthAdjust="spacingAndGlyphs" >0.76</text>
<line x1="379.46" y1="65.59" x2="379.46" y2="79.87" stroke="#eea237" stroke-width="1.0" stroke-opacity="0.8"/>
<line x1="378.06" y1="65.59" x2="380.86" y2="65.59" stroke="#eea237" stroke-width="1.0"/>
<line x1="378.06" y1="79.87" x2="380.86" y2="79.87" stroke="#eea237" stroke-width="1.0"/>
<circle cx="379.46" cy="72.66" r="1.1" fill="#eea237"/>
<text x="383.75" y="75.35" font-size="6.26" text-anchor="start" fill="#3a3a3a" font-weight="normal" stroke="#3a3a3a" stroke-width="0.08" textLength="11.29" lengthAdjust="spacingAndGlyphs" >0.64</text>
<line x1="382.56" y1="73.18" x2="382.56" y2="89.03" stroke="#3f9a3f" stroke-width="1.0" stroke-opacity="0.8"/>
<line x1="381.16" y1="73.18" x2="383.96" y2="73.18" stroke="#3f9a3f" stroke-width="1.0"/>
<line x1="381.16" y1="89.03" x2="383.96" y2="89.03" stroke="#3f9a3f" stroke-width="1.0"/>
<circle cx="382.56" cy="80.52" r="1.1" fill="#3f9a3f"/>
<text x="385.55" y="83.15" font-size="6.26" text-anchor="start" fill="#3a3a3a" font-weight="normal" stroke="#3a3a3a" stroke-width="0.08" textLength="11.29" lengthAdjust="spacingAndGlyphs" >0.58</text>
<line x1="405.79" y1="71.87" x2="405.79" y2="73.45" stroke="#23457a" stroke-width="1.0" stroke-opacity="0.8"/>
<line x1="404.39" y1="71.87" x2="407.19" y2="71.87" stroke="#23457a" stroke-width="1.0"/>
<line x1="404.39" y1="73.45" x2="407.19" y2="73.45" stroke="#23457a" stroke-width="1.0"/>
<circle cx="405.79" cy="72.66" r="1.1" fill="#23457a"/>
<text x="409.55" y="75.35" font-size="6.26" text-anchor="start" fill="#3a3a3a" font-weight="normal" stroke="#3a3a3a" stroke-width="0.08" textLength="11.29" lengthAdjust="spacingAndGlyphs" >0.64</text>
<line x1="408.79" y1="90.74" x2="408.79" y2="93.88" stroke="#eea237" stroke-width="1.0" stroke-opacity="0.8"/>
<line x1="407.39" y1="90.74" x2="410.19" y2="90.74" stroke="#eea237" stroke-width="1.0"/>
<line x1="407.39" y1="93.88" x2="410.19" y2="93.88" stroke="#eea237" stroke-width="1.0"/>
<circle cx="408.79" cy="92.31" r="1.1" fill="#eea237"/>
<text x="412.65" y="95.05" font-size="6.26" text-anchor="start" fill="#3a3a3a" font-weight="normal" stroke="#3a3a3a" stroke-width="0.08" textLength="11.29" lengthAdjust="spacingAndGlyphs" >0.49</text>
<line x1="411.89" y1="101.22" x2="411.89" y2="104.36" stroke="#3f9a3f" stroke-width="1.0" stroke-opacity="0.8"/>
<line x1="410.49" y1="101.22" x2="413.29" y2="101.22" stroke="#3f9a3f" stroke-width="1.0"/>
<line x1="410.49" y1="104.36" x2="413.29" y2="104.36" stroke="#3f9a3f" stroke-width="1.0"/>
<circle cx="411.89" cy="102.79" r="1.1" fill="#3f9a3f"/>
<text x="416.05" y="104.95" font-size="6.26" text-anchor="start" fill="#3a3a3a" font-weight="normal" stroke="#3a3a3a" stroke-width="0.08" textLength="11.29" lengthAdjust="spacingAndGlyphs" >0.41</text>
<line x1="435.12" y1="87.72" x2="435.12" y2="99.12" stroke="#23457a" stroke-width="1.0" stroke-opacity="0.8"/>
<line x1="433.72" y1="87.72" x2="436.52" y2="87.72" stroke="#23457a" stroke-width="1.0"/>
<line x1="433.72" y1="99.12" x2="436.52" y2="99.12" stroke="#23457a" stroke-width="1.0"/>
<circle cx="435.12" cy="93.62" r="1.1" fill="#23457a"/>
<text x="438.05" y="95.75" font-size="6.26" text-anchor="start" fill="#3a3a3a" font-weight="normal" stroke="#3a3a3a" stroke-width="0.08" textLength="11.29" lengthAdjust="spacingAndGlyphs" >0.48</text>
<line x1="438.12" y1="109.86" x2="438.12" y2="122.18" stroke="#eea237" stroke-width="1.0" stroke-opacity="0.8"/>
<line x1="436.72" y1="109.86" x2="439.52" y2="109.86" stroke="#eea237" stroke-width="1.0"/>
<line x1="436.72" y1="122.18" x2="439.52" y2="122.18" stroke="#eea237" stroke-width="1.0"/>
<circle cx="438.12" cy="115.89" r="1.1" fill="#eea237"/>
<text x="441.75" y="117.95" font-size="6.26" text-anchor="start" fill="#3a3a3a" font-weight="normal" stroke="#3a3a3a" stroke-width="0.08" textLength="11.29" lengthAdjust="spacingAndGlyphs" >0.31</text>
<line x1="441.22" y1="119.95" x2="441.22" y2="131.22" stroke="#3f9a3f" stroke-width="1.0" stroke-opacity="0.8"/>
<line x1="439.82" y1="119.95" x2="442.62" y2="119.95" stroke="#3f9a3f" stroke-width="1.0"/>
<line x1="439.82" y1="131.22" x2="442.62" y2="131.22" stroke="#3f9a3f" stroke-width="1.0"/>
<circle cx="441.22" cy="125.06" r="1.1" fill="#3f9a3f"/>
<text x="444.15" y="127.75" font-size="6.26" text-anchor="start" fill="#3a3a3a" font-weight="normal" stroke="#3a3a3a" stroke-width="0.08" textLength="11.29" lengthAdjust="spacingAndGlyphs" >0.24</text>
<line x1="464.45" y1="102.92" x2="464.45" y2="129.38" stroke="#23457a" stroke-width="1.0" stroke-opacity="0.8"/>
<line x1="463.05" y1="102.92" x2="465.85" y2="102.92" stroke="#23457a" stroke-width="1.0"/>
<line x1="463.05" y1="129.38" x2="465.85" y2="129.38" stroke="#23457a" stroke-width="1.0"/>
<circle cx="464.45" cy="115.89" r="1.1" fill="#23457a"/>
<text x="467.45" y="118.45" font-size="6.26" text-anchor="start" fill="#3a3a3a" font-weight="normal" stroke="#3a3a3a" stroke-width="0.08" textLength="11.29" lengthAdjust="spacingAndGlyphs" >0.31</text>
<line x1="467.45" y1="125.19" x2="467.45" y2="146.15" stroke="#eea237" stroke-width="1.0" stroke-opacity="0.8"/>
<line x1="466.05" y1="125.19" x2="468.85" y2="125.19" stroke="#eea237" stroke-width="1.0"/>
<line x1="466.05" y1="146.15" x2="468.85" y2="146.15" stroke="#eea237" stroke-width="1.0"/>
<circle cx="467.45" cy="136.85" r="1.1" fill="#eea237"/>
<text x="471.45" y="139.25" font-size="6.26" text-anchor="start" fill="#3a3a3a" font-weight="normal" stroke="#3a3a3a" stroke-width="0.08" textLength="11.29" lengthAdjust="spacingAndGlyphs" >0.15</text>
<line x1="470.55" y1="134.23" x2="470.55" y2="150.87" stroke="#3f9a3f" stroke-width="1.0" stroke-opacity="0.8"/>
<line x1="469.15" y1="134.23" x2="471.95" y2="134.23" stroke="#3f9a3f" stroke-width="1.0"/>
<line x1="469.15" y1="150.87" x2="471.95" y2="150.87" stroke="#3f9a3f" stroke-width="1.0"/>
<circle cx="470.55" cy="143.40" r="1.1" fill="#3f9a3f"/>
<text x="473.75" y="146.15" font-size="6.26" text-anchor="start" fill="#3a3a3a" font-weight="normal" stroke="#3a3a3a" stroke-width="0.08" textLength="11.29" lengthAdjust="spacingAndGlyphs" >0.10</text>
<line x1="493.78" y1="118.25" x2="493.78" y2="149.95" stroke="#23457a" stroke-width="1.0" stroke-opacity="0.8"/>
<line x1="492.38" y1="118.25" x2="495.18" y2="118.25" stroke="#23457a" stroke-width="1.0"/>
<line x1="492.38" y1="149.95" x2="495.18" y2="149.95" stroke="#23457a" stroke-width="1.0"/>
<circle cx="493.78" cy="136.85" r="1.1" fill="#23457a"/>
<text x="496.25" y="139.25" font-size="6.26" text-anchor="start" fill="#3a3a3a" font-weight="normal" stroke="#3a3a3a" stroke-width="0.08" textLength="11.29" lengthAdjust="spacingAndGlyphs" >0.15</text>
<line x1="496.78" y1="138.55" x2="496.78" y2="155.45" stroke="#eea237" stroke-width="1.0" stroke-opacity="0.8"/>
<line x1="495.38" y1="138.55" x2="498.18" y2="138.55" stroke="#eea237" stroke-width="1.0"/>
<line x1="495.38" y1="155.45" x2="498.18" y2="155.45" stroke="#eea237" stroke-width="1.0"/>
<circle cx="496.78" cy="149.95" r="1.1" fill="#eea237"/>
<text x="499.75" y="150.65" font-size="6.26" text-anchor="start" fill="#3a3a3a" font-weight="normal" stroke="#3a3a3a" stroke-width="0.08" textLength="11.29" lengthAdjust="spacingAndGlyphs" >0.05</text>
<line x1="499.88" y1="145.10" x2="499.88" y2="156.50" stroke="#3f9a3f" stroke-width="1.0" stroke-opacity="0.8"/>
<line x1="498.48" y1="145.10" x2="501.28" y2="145.10" stroke="#3f9a3f" stroke-width="1.0"/>
<line x1="498.48" y1="156.50" x2="501.28" y2="156.50" stroke="#3f9a3f" stroke-width="1.0"/>
<circle cx="499.88" cy="153.88" r="1.1" fill="#3f9a3f"/>
<text x="500.35" y="156.25" font-size="6.26" text-anchor="start" fill="#3a3a3a" font-weight="normal" stroke="#3a3a3a" stroke-width="0.08" textLength="11.29" lengthAdjust="spacingAndGlyphs" >0.02</text>
<text x="364.90" y="211.60" font-size="8.10" text-anchor="start" fill="#2a2a2a" font-weight="normal" stroke="#2a2a2a" stroke-width="0.22" textLength="35.57" lengthAdjust="spacingAndGlyphs" >Time Point</text>
<rect x="365.30" y="218.40" width="2.4" height="4.20" fill="#23457a" fill-opacity="0.55"/>
<line x1="365.20" y1="218.80" x2="367.80" y2="218.80" stroke="#23457a" stroke-width="0.8"/>
<line x1="365.20" y1="222.20" x2="367.80" y2="222.20" stroke="#23457a" stroke-width="0.8"/>
<line x1="366.50" y1="218.40" x2="366.50" y2="222.60" stroke="#23457a" stroke-width="1.0"/>
<text x="371.10" y="222.70" font-size="7.40" text-anchor="start" fill="#2a2a2a" font-weight="normal" stroke="#2a2a2a" stroke-width="0.22" textLength="19.93" lengthAdjust="spacingAndGlyphs" >1-Year</text>
<rect x="396.30" y="218.40" width="2.4" height="4.20" fill="#eea237" fill-opacity="0.55"/>
<line x1="396.20" y1="218.80" x2="398.80" y2="218.80" stroke="#eea237" stroke-width="0.8"/>
<line x1="396.20" y1="222.20" x2="398.80" y2="222.20" stroke="#eea237" stroke-width="0.8"/>
<line x1="397.50" y1="218.40" x2="397.50" y2="222.60" stroke="#eea237" stroke-width="1.0"/>
<text x="402.10" y="222.70" font-size="7.40" text-anchor="start" fill="#2a2a2a" font-weight="normal" stroke="#2a2a2a" stroke-width="0.22" textLength="19.93" lengthAdjust="spacingAndGlyphs" >2-Year</text>
<rect x="427.30" y="218.40" width="2.4" height="4.20" fill="#3f9a3f" fill-opacity="0.55"/>
<line x1="427.20" y1="218.80" x2="429.80" y2="218.80" stroke="#3f9a3f" stroke-width="0.8"/>
<line x1="427.20" y1="222.20" x2="429.80" y2="222.20" stroke="#3f9a3f" stroke-width="0.8"/>
<line x1="428.50" y1="218.40" x2="428.50" y2="222.60" stroke="#3f9a3f" stroke-width="1.0"/>
<text x="433.10" y="222.70" font-size="7.40" text-anchor="start" fill="#2a2a2a" font-weight="normal" stroke="#2a2a2a" stroke-width="0.22" textLength="19.93" lengthAdjust="spacingAndGlyphs" >3-Year</text>
<text x="7.00" y="249.00" font-size="11.00" text-anchor="start" fill="#000" font-weight="bold" stroke="#000" stroke-width="0.55" >C</text>
<line x1="43.80" y1="359.50" x2="47.00" y2="359.50" stroke="#3a3a3a" stroke-width="0.9" />
<text x="41.30" y="362.10" font-size="7.88" text-anchor="end" fill="#2a2a2a" font-weight="normal" stroke="#2a2a2a" stroke-width="0.22" textLength="10.15" lengthAdjust="spacingAndGlyphs" >0.0</text>
<line x1="43.80" y1="340.52" x2="47.00" y2="340.52" stroke="#3a3a3a" stroke-width="0.9" />
<text x="41.30" y="343.12" font-size="7.88" text-anchor="end" fill="#2a2a2a" font-weight="normal" stroke="#2a2a2a" stroke-width="0.22" textLength="10.15" lengthAdjust="spacingAndGlyphs" >0.2</text>
<line x1="43.80" y1="321.54" x2="47.00" y2="321.54" stroke="#3a3a3a" stroke-width="0.9" />
<text x="41.30" y="324.14" font-size="7.88" text-anchor="end" fill="#2a2a2a" font-weight="normal" stroke="#2a2a2a" stroke-width="0.22" textLength="10.15" lengthAdjust="spacingAndGlyphs" >0.4</text>
<line x1="43.80" y1="302.56" x2="47.00" y2="302.56" stroke="#3a3a3a" stroke-width="0.9" />
<text x="41.30" y="305.16" font-size="7.88" text-anchor="end" fill="#2a2a2a" font-weight="normal" stroke="#2a2a2a" stroke-width="0.22" textLength="10.15" lengthAdjust="spacingAndGlyphs" >0.6</text>
<line x1="43.80" y1="283.58" x2="47.00" y2="283.58" stroke="#3a3a3a" stroke-width="0.9" />
<text x="41.30" y="286.18" font-size="7.88" text-anchor="end" fill="#2a2a2a" font-weight="normal" stroke="#2a2a2a" stroke-width="0.22" textLength="10.15" lengthAdjust="spacingAndGlyphs" >0.8</text>
<line x1="43.80" y1="264.60" x2="47.00" y2="264.60" stroke="#3a3a3a" stroke-width="0.9" />
<text x="41.30" y="267.20" font-size="7.88" text-anchor="end" fill="#2a2a2a" font-weight="normal" stroke="#2a2a2a" stroke-width="0.22" textLength="10.15" lengthAdjust="spacingAndGlyphs" >1.0</text>
<line x1="47.00" y1="369.50" x2="47.00" y2="372.30" stroke="#3a3a3a" stroke-width="0.9" />
<text x="47.00" y="382.10" font-size="7.99" text-anchor="middle" fill="#2a2a2a" font-weight="normal" stroke="#2a2a2a" stroke-width="0.22" textLength="4.12" lengthAdjust="spacingAndGlyphs" >0</text>
<line x1="69.14" y1="369.50" x2="69.14" y2="372.30" stroke="#3a3a3a" stroke-width="0.9" />
<text x="69.14" y="382.10" font-size="7.99" text-anchor="middle" fill="#2a2a2a" font-weight="normal" stroke="#2a2a2a" stroke-width="0.22" textLength="4.12" lengthAdjust="spacingAndGlyphs" >1</text>
<line x1="91.28" y1="369.50" x2="91.28" y2="372.30" stroke="#3a3a3a" stroke-width="0.9" />
<text x="91.28" y="382.10" font-size="7.99" text-anchor="middle" fill="#2a2a2a" font-weight="normal" stroke="#2a2a2a" stroke-width="0.22" textLength="4.12" lengthAdjust="spacingAndGlyphs" >2</text>
<line x1="113.42" y1="369.50" x2="113.42" y2="372.30" stroke="#3a3a3a" stroke-width="0.9" />
<text x="113.42" y="382.10" font-size="7.99" text-anchor="middle" fill="#2a2a2a" font-weight="normal" stroke="#2a2a2a" stroke-width="0.22" textLength="4.12" lengthAdjust="spacingAndGlyphs" >3</text>
<line x1="135.56" y1="369.50" x2="135.56" y2="372.30" stroke="#3a3a3a" stroke-width="0.9" />
<text x="135.56" y="382.10" font-size="7.99" text-anchor="middle" fill="#2a2a2a" font-weight="normal" stroke="#2a2a2a" stroke-width="0.22" textLength="4.12" lengthAdjust="spacingAndGlyphs" >4</text>
<line x1="157.70" y1="369.50" x2="157.70" y2="372.30" stroke="#3a3a3a" stroke-width="0.9" />
<text x="157.70" y="382.10" font-size="7.99" text-anchor="middle" fill="#2a2a2a" font-weight="normal" stroke="#2a2a2a" stroke-width="0.22" textLength="4.12" lengthAdjust="spacingAndGlyphs" >5</text>
<line x1="179.84" y1="369.50" x2="179.84" y2="372.30" stroke="#3a3a3a" stroke-width="0.9" />
<text x="179.84" y="382.10" font-size="7.99" text-anchor="middle" fill="#2a2a2a" font-weight="normal" stroke="#2a2a2a" stroke-width="0.22" textLength="4.12" lengthAdjust="spacingAndGlyphs" >6</text>
<line x1="201.98" y1="369.50" x2="201.98" y2="372.30" stroke="#3a3a3a" stroke-width="0.9" />
<text x="201.98" y="382.10" font-size="7.99" text-anchor="middle" fill="#2a2a2a" font-weight="normal" stroke="#2a2a2a" stroke-width="0.22" textLength="4.12" lengthAdjust="spacingAndGlyphs" >7</text>
<line x1="224.12" y1="369.50" x2="224.12" y2="372.30" stroke="#3a3a3a" stroke-width="0.9" />
<text x="224.12" y="382.10" font-size="7.99" text-anchor="middle" fill="#2a2a2a" font-weight="normal" stroke="#2a2a2a" stroke-width="0.22" textLength="4.12" lengthAdjust="spacingAndGlyphs" >8</text>
<line x1="246.26" y1="369.50" x2="246.26" y2="372.30" stroke="#3a3a3a" stroke-width="0.9" />
<text x="246.26" y="382.10" font-size="7.99" text-anchor="middle" fill="#2a2a2a" font-weight="normal" stroke="#2a2a2a" stroke-width="0.22" textLength="4.12" lengthAdjust="spacingAndGlyphs" >9</text>
<text x="24.60" y="311.20" font-size="9.2" text-anchor="middle" fill="#303030" font-weight="bold" textLength="54.6" lengthAdjust="spacingAndGlyphs" transform="rotate(-90 24.60 311.20)">Survival probability</text>
<text x="90.00" y="394.85" font-size="9.2" text-anchor="start" fill="#303030" font-weight="bold" textLength="116.0" lengthAdjust="spacingAndGlyphs">Time since second line treatment (years)</text>
<text x="50.20" y="366.5" font-size="7.9" fill="#2a2a2a" stroke="#2a2a2a" stroke-width="0.2" textLength="28.0" lengthAdjust="spacingAndGlyphs"><tspan font-style="italic">P</tspan> &lt; .005</text>
<rect x="68.50" y="267.38" width="8.00" height="49.48" fill="rgba(111,167,63,0.25)"/>
<rect x="76.50" y="274.02" width="15.80" height="53.34" fill="rgba(111,167,63,0.25)"/>
<rect x="92.30" y="282.87" width="102.00" height="54.70" fill="rgba(111,167,63,0.25)"/>
<rect x="48.51" y="265.29" width="3.70" height="16.17" fill="rgba(247,139,19,0.25)"/>
<rect x="52.20" y="266.85" width="1.10" height="18.47" fill="rgba(247,139,19,0.25)"/>
<rect x="53.30" y="268.82" width="1.10" height="20.70" fill="rgba(247,139,19,0.25)"/>
<rect x="54.40" y="271.05" width="1.10" height="22.59" fill="rgba(247,139,19,0.25)"/>
<rect x="55.50" y="273.46" width="1.10" height="24.18" fill="rgba(247,139,19,0.25)"/>
<rect x="56.60" y="276.02" width="1.10" height="25.51" fill="rgba(247,139,19,0.25)"/>
<rect x="57.70" y="278.69" width="1.10" height="26.61" fill="rgba(247,139,19,0.25)"/>
<rect x="58.81" y="281.48" width="1.70" height="27.50" fill="rgba(247,139,19,0.25)"/>
<rect x="60.51" y="284.74" width="2.44" height="28.81" fill="rgba(247,139,19,0.25)"/>
<rect x="62.94" y="288.14" width="3.54" height="29.77" fill="rgba(247,139,19,0.25)"/>
<rect x="66.48" y="293.54" width="8.19" height="30.65" fill="rgba(247,139,19,0.25)"/>
<rect x="74.67" y="296.31" width="1.55" height="30.77" fill="rgba(247,139,19,0.25)"/>
<rect x="76.22" y="299.32" width="2.44" height="30.79" fill="rgba(247,139,19,0.25)"/>
<rect x="78.66" y="304.18" width="12.18" height="30.57" fill="rgba(247,139,19,0.25)"/>
<rect x="90.84" y="308.70" width="1.55" height="30.23" fill="rgba(247,139,19,0.25)"/>
<rect x="92.39" y="312.53" width="7.53" height="29.63" fill="rgba(247,139,19,0.25)"/>
<rect x="99.91" y="317.17" width="4.65" height="28.62" fill="rgba(247,139,19,0.25)"/>
<rect x="104.56" y="322.43" width="130.44" height="27.01" fill="rgba(247,139,19,0.25)"/>
<rect x="49.20" y="265.77" width="0.40" height="25.80" fill="rgba(185,25,20,0.25)"/>
<rect x="49.60" y="268.48" width="0.30" height="29.15" fill="rgba(185,25,20,0.25)"/>
<rect x="49.90" y="271.91" width="0.30" height="32.16" fill="rgba(185,25,20,0.25)"/>
<rect x="50.20" y="275.84" width="0.70" height="34.45" fill="rgba(185,25,20,0.25)"/>
<rect x="50.90" y="280.14" width="0.90" height="36.09" fill="rgba(185,25,20,0.25)"/>
<rect x="51.80" y="284.75" width="0.60" height="37.15" fill="rgba(185,25,20,0.25)"/>
<rect x="52.40" y="289.64" width="0.60" height="37.66" fill="rgba(185,25,20,0.25)"/>
<rect x="53.00" y="294.79" width="0.80" height="37.64" fill="rgba(185,25,20,0.25)"/>
<rect x="53.80" y="300.20" width="0.60" height="37.11" fill="rgba(185,25,20,0.25)"/>
<rect x="54.40" y="305.88" width="2.50" height="36.03" fill="rgba(185,25,20,0.25)"/>
<rect x="56.90" y="313.52" width="5.40" height="34.56" fill="rgba(185,25,20,0.25)"/>
<rect x="62.30" y="320.82" width="7.20" height="31.75" fill="rgba(185,25,20,0.25)"/>
<rect x="69.50" y="328.66" width="9.70" height="27.53" fill="rgba(185,25,20,0.25)"/>
<rect x="79.20" y="337.50" width="52.10" height="21.26" fill="rgba(185,25,20,0.25)"/>
<path d="M47.00,264.60H68.50V278.16H76.50V291.71H92.30V305.27H194.30" fill="none" stroke="#3f8a3c" stroke-width="1.2"/>
<path d="M47.00,264.60H48.51V268.11H52.20V271.63H53.30V275.14H54.40V278.66H55.50V282.17H56.60V285.69H57.70V289.20H58.81V292.72H60.51V296.89H62.94V301.07H66.48V307.40H74.67V310.50H76.22V313.80H78.66V319.00H90.84V323.80H92.39V327.70H99.91V332.30H104.56V337.30H235.00" fill="none" stroke="#eea030" stroke-width="1.2"/>
<path d="M47.00,264.60H49.20V270.53H49.60V276.46H49.90V282.39H50.20V288.32H50.90V294.26H51.80V300.19H52.40V306.12H53.00V312.05H53.80V317.98H54.40V323.91H56.90V332.00H62.30V339.00H69.50V345.90H79.20V352.90H131.30" fill="none" stroke="#c0223c" stroke-width="1.2"/>
<line x1="47.00" y1="255.20" x2="47.00" y2="370.10" stroke="#3a3a3a" stroke-width="1.2" />
<line x1="46.40" y1="369.50" x2="248.00" y2="369.50" stroke="#3a3a3a" stroke-width="1.2" />
<text x="266.00" y="249.00" font-size="11.00" text-anchor="start" fill="#000" font-weight="bold" stroke="#000" stroke-width="0.55" >D</text>
<line x1="306.10" y1="359.50" x2="309.30" y2="359.50" stroke="#3a3a3a" stroke-width="0.9" />
<text x="303.30" y="362.10" font-size="7.88" text-anchor="end" fill="#2a2a2a" font-weight="normal" stroke="#2a2a2a" stroke-width="0.22" textLength="10.15" lengthAdjust="spacingAndGlyphs" >0.0</text>
<line x1="306.10" y1="340.52" x2="309.30" y2="340.52" stroke="#3a3a3a" stroke-width="0.9" />
<text x="303.30" y="343.12" font-size="7.88" text-anchor="end" fill="#2a2a2a" font-weight="normal" stroke="#2a2a2a" stroke-width="0.22" textLength="10.15" lengthAdjust="spacingAndGlyphs" >0.2</text>
<line x1="306.10" y1="321.54" x2="309.30" y2="321.54" stroke="#3a3a3a" stroke-width="0.9" />
<text x="303.30" y="324.14" font-size="7.88" text-anchor="end" fill="#2a2a2a" font-weight="normal" stroke="#2a2a2a" stroke-width="0.22" textLength="10.15" lengthAdjust="spacingAndGlyphs" >0.4</text>
<line x1="306.10" y1="302.56" x2="309.30" y2="302.56" stroke="#3a3a3a" stroke-width="0.9" />
<text x="303.30" y="305.16" font-size="7.88" text-anchor="end" fill="#2a2a2a" font-weight="normal" stroke="#2a2a2a" stroke-width="0.22" textLength="10.15" lengthAdjust="spacingAndGlyphs" >0.6</text>
<line x1="306.10" y1="283.58" x2="309.30" y2="283.58" stroke="#3a3a3a" stroke-width="0.9" />
<text x="303.30" y="286.18" font-size="7.88" text-anchor="end" fill="#2a2a2a" font-weight="normal" stroke="#2a2a2a" stroke-width="0.22" textLength="10.15" lengthAdjust="spacingAndGlyphs" >0.8</text>
<line x1="306.10" y1="264.60" x2="309.30" y2="264.60" stroke="#3a3a3a" stroke-width="0.9" />
<text x="303.30" y="267.20" font-size="7.88" text-anchor="end" fill="#2a2a2a" font-weight="normal" stroke="#2a2a2a" stroke-width="0.22" textLength="10.15" lengthAdjust="spacingAndGlyphs" >1.0</text>
<line x1="309.30" y1="369.50" x2="309.30" y2="372.30" stroke="#3a3a3a" stroke-width="0.9" />
<text x="309.30" y="382.10" font-size="7.99" text-anchor="middle" fill="#2a2a2a" font-weight="normal" stroke="#2a2a2a" stroke-width="0.22" textLength="4.12" lengthAdjust="spacingAndGlyphs" >0</text>
<line x1="331.46" y1="369.50" x2="331.46" y2="372.30" stroke="#3a3a3a" stroke-width="0.9" />
<text x="331.46" y="382.10" font-size="7.99" text-anchor="middle" fill="#2a2a2a" font-weight="normal" stroke="#2a2a2a" stroke-width="0.22" textLength="4.12" lengthAdjust="spacingAndGlyphs" >1</text>
<line x1="353.62" y1="369.50" x2="353.62" y2="372.30" stroke="#3a3a3a" stroke-width="0.9" />
<text x="353.62" y="382.10" font-size="7.99" text-anchor="middle" fill="#2a2a2a" font-weight="normal" stroke="#2a2a2a" stroke-width="0.22" textLength="4.12" lengthAdjust="spacingAndGlyphs" >2</text>
<line x1="375.78" y1="369.50" x2="375.78" y2="372.30" stroke="#3a3a3a" stroke-width="0.9" />
<text x="375.78" y="382.10" font-size="7.99" text-anchor="middle" fill="#2a2a2a" font-weight="normal" stroke="#2a2a2a" stroke-width="0.22" textLength="4.12" lengthAdjust="spacingAndGlyphs" >3</text>
<line x1="397.94" y1="369.50" x2="397.94" y2="372.30" stroke="#3a3a3a" stroke-width="0.9" />
<text x="397.94" y="382.10" font-size="7.99" text-anchor="middle" fill="#2a2a2a" font-weight="normal" stroke="#2a2a2a" stroke-width="0.22" textLength="4.12" lengthAdjust="spacingAndGlyphs" >4</text>
<line x1="420.10" y1="369.50" x2="420.10" y2="372.30" stroke="#3a3a3a" stroke-width="0.9" />
<text x="420.10" y="382.10" font-size="7.99" text-anchor="middle" fill="#2a2a2a" font-weight="normal" stroke="#2a2a2a" stroke-width="0.22" textLength="4.12" lengthAdjust="spacingAndGlyphs" >5</text>
<line x1="442.26" y1="369.50" x2="442.26" y2="372.30" stroke="#3a3a3a" stroke-width="0.9" />
<text x="442.26" y="382.10" font-size="7.99" text-anchor="middle" fill="#2a2a2a" font-weight="normal" stroke="#2a2a2a" stroke-width="0.22" textLength="4.12" lengthAdjust="spacingAndGlyphs" >6</text>
<line x1="464.42" y1="369.50" x2="464.42" y2="372.30" stroke="#3a3a3a" stroke-width="0.9" />
<text x="464.42" y="382.10" font-size="7.99" text-anchor="middle" fill="#2a2a2a" font-weight="normal" stroke="#2a2a2a" stroke-width="0.22" textLength="4.12" lengthAdjust="spacingAndGlyphs" >7</text>
<line x1="486.58" y1="369.50" x2="486.58" y2="372.30" stroke="#3a3a3a" stroke-width="0.9" />
<text x="486.58" y="382.10" font-size="7.99" text-anchor="middle" fill="#2a2a2a" font-weight="normal" stroke="#2a2a2a" stroke-width="0.22" textLength="4.12" lengthAdjust="spacingAndGlyphs" >8</text>
<line x1="508.74" y1="369.50" x2="508.74" y2="372.30" stroke="#3a3a3a" stroke-width="0.9" />
<text x="508.74" y="382.10" font-size="7.99" text-anchor="middle" fill="#2a2a2a" font-weight="normal" stroke="#2a2a2a" stroke-width="0.22" textLength="4.12" lengthAdjust="spacingAndGlyphs" >9</text>
<text x="286.90" y="311.20" font-size="9.2" text-anchor="middle" fill="#303030" font-weight="bold" textLength="54.6" lengthAdjust="spacingAndGlyphs" transform="rotate(-90 286.90 311.20)">Survival probability</text>
<text x="352.30" y="394.85" font-size="9.2" text-anchor="start" fill="#303030" font-weight="bold" textLength="116.0" lengthAdjust="spacingAndGlyphs">Time since second line treatment (years)</text>
<text x="312.50" y="366.5" font-size="7.9" fill="#2a2a2a" stroke="#2a2a2a" stroke-width="0.2" textLength="28.0" lengthAdjust="spacingAndGlyphs"><tspan font-style="italic">P</tspan> &lt; .005</text>
<rect x="309.90" y="267.38" width="198.85" height="49.48" fill="rgba(111,167,63,0.25)"/>
<rect x="310.45" y="265.33" width="0.90" height="10.60" fill="rgba(247,139,19,0.25)"/>
<rect x="311.35" y="266.60" width="0.90" height="12.46" fill="rgba(247,139,19,0.25)"/>
<rect x="312.25" y="268.12" width="1.23" height="14.11" fill="rgba(247,139,19,0.25)"/>
<rect x="313.48" y="269.89" width="1.55" height="15.65" fill="rgba(247,139,19,0.25)"/>
<rect x="315.02" y="271.79" width="1.28" height="17.00" fill="rgba(247,139,19,0.25)"/>
<rect x="316.30" y="273.67" width="1.00" height="18.14" fill="rgba(247,139,19,0.25)"/>
<rect x="317.30" y="275.62" width="1.00" height="19.15" fill="rgba(247,139,19,0.25)"/>
<rect x="318.30" y="277.63" width="1.27" height="20.03" fill="rgba(247,139,19,0.25)"/>
<rect x="319.57" y="279.47" width="1.55" height="20.75" fill="rgba(247,139,19,0.25)"/>
<rect x="321.12" y="281.33" width="1.92" height="21.44" fill="rgba(247,139,19,0.25)"/>
<rect x="323.05" y="284.51" width="1.58" height="22.56" fill="rgba(247,139,19,0.25)"/>
<rect x="324.62" y="286.93" width="0.85" height="23.28" fill="rgba(247,139,19,0.25)"/>
<rect x="325.47" y="289.41" width="2.13" height="23.87" fill="rgba(247,139,19,0.25)"/>
<rect x="327.60" y="292.38" width="3.15" height="24.61" fill="rgba(247,139,19,0.25)"/>
<rect x="330.75" y="293.77" width="2.35" height="25.12" fill="rgba(247,139,19,0.25)"/>
<rect x="333.10" y="296.12" width="5.80" height="25.98" fill="rgba(247,139,19,0.25)"/>
<rect x="338.90" y="296.61" width="5.45" height="26.17" fill="rgba(247,139,19,0.25)"/>
<rect x="344.35" y="299.26" width="7.50" height="27.37" fill="rgba(247,139,19,0.25)"/>
<rect x="351.85" y="299.70" width="7.50" height="27.63" fill="rgba(247,139,19,0.25)"/>
<rect x="359.35" y="302.00" width="1.45" height="29.73" fill="rgba(247,139,19,0.25)"/>
<rect x="360.80" y="304.48" width="0.98" height="31.08" fill="rgba(247,139,19,0.25)"/>
<rect x="361.78" y="306.30" width="0.17" height="31.61" fill="rgba(247,139,19,0.25)"/>
<rect x="361.95" y="308.25" width="0.17" height="31.84" fill="rgba(247,139,19,0.25)"/>
<rect x="362.12" y="310.32" width="0.38" height="31.81" fill="rgba(247,139,19,0.25)"/>
<rect x="362.50" y="312.25" width="0.60" height="31.57" fill="rgba(247,139,19,0.25)"/>
<rect x="363.10" y="314.25" width="57.90" height="31.17" fill="rgba(247,139,19,0.25)"/>
<rect x="309.52" y="265.09" width="0.03" height="8.59" fill="rgba(185,25,20,0.25)"/>
<rect x="309.55" y="266.12" width="0.03" height="10.12" fill="rgba(185,25,20,0.25)"/>
<rect x="309.58" y="267.39" width="0.07" height="11.50" fill="rgba(185,25,20,0.25)"/>
<rect x="309.65" y="268.72" width="0.10" height="12.60" fill="rgba(185,25,20,0.25)"/>
<rect x="309.75" y="270.13" width="0.10" height="13.54" fill="rgba(185,25,20,0.25)"/>
<rect x="309.85" y="271.62" width="0.10" height="14.37" fill="rgba(185,25,20,0.25)"/>
<rect x="309.95" y="273.16" width="0.10" height="15.08" fill="rgba(185,25,20,0.25)"/>
<rect x="310.05" y="274.75" width="0.10" height="15.70" fill="rgba(185,25,20,0.25)"/>
<rect x="310.15" y="276.39" width="0.10" height="16.24" fill="rgba(185,25,20,0.25)"/>
<rect x="310.25" y="278.07" width="0.25" height="16.71" fill="rgba(185,25,20,0.25)"/>
<rect x="310.50" y="280.04" width="0.40" height="17.17" fill="rgba(185,25,20,0.25)"/>
<rect x="310.90" y="282.04" width="0.40" height="17.57" fill="rgba(185,25,20,0.25)"/>
<rect x="311.30" y="284.09" width="0.48" height="17.89" fill="rgba(185,25,20,0.25)"/>
<rect x="311.78" y="286.16" width="0.57" height="18.16" fill="rgba(185,25,20,0.25)"/>
<rect x="312.35" y="288.27" width="0.57" height="18.37" fill="rgba(185,25,20,0.25)"/>
<rect x="312.92" y="290.40" width="0.57" height="18.52" fill="rgba(185,25,20,0.25)"/>
<rect x="313.48" y="292.22" width="0.57" height="18.62" fill="rgba(185,25,20,0.25)"/>
<rect x="314.05" y="294.05" width="0.57" height="18.67" fill="rgba(185,25,20,0.25)"/>
<rect x="314.62" y="295.90" width="1.43" height="18.70" fill="rgba(185,25,20,0.25)"/>
<rect x="316.05" y="297.54" width="2.30" height="18.72" fill="rgba(185,25,20,0.25)"/>
<rect x="318.35" y="300.32" width="1.45" height="18.76" fill="rgba(185,25,20,0.25)"/>
<rect x="319.80" y="302.01" width="0.60" height="18.76" fill="rgba(185,25,20,0.25)"/>
<rect x="320.40" y="303.72" width="1.45" height="18.74" fill="rgba(185,25,20,0.25)"/>
<rect x="321.85" y="304.30" width="1.75" height="18.73" fill="rgba(185,25,20,0.25)"/>
<rect x="323.60" y="307.10" width="1.17" height="18.75" fill="rgba(185,25,20,0.25)"/>
<rect x="324.77" y="308.76" width="1.15" height="18.72" fill="rgba(185,25,20,0.25)"/>
<rect x="325.93" y="310.42" width="1.00" height="18.69" fill="rgba(185,25,20,0.25)"/>
<rect x="326.93" y="312.13" width="0.85" height="18.64" fill="rgba(185,25,20,0.25)"/>
<rect x="327.77" y="313.86" width="1.88" height="18.57" fill="rgba(185,25,20,0.25)"/>
<rect x="329.65" y="314.44" width="1.88" height="18.57" fill="rgba(185,25,20,0.25)"/>
<rect x="331.53" y="316.31" width="0.85" height="18.68" fill="rgba(185,25,20,0.25)"/>
<rect x="332.38" y="318.24" width="2.18" height="18.67" fill="rgba(185,25,20,0.25)"/>
<rect x="334.55" y="319.12" width="2.90" height="18.64" fill="rgba(185,25,20,0.25)"/>
<rect x="337.45" y="319.89" width="2.00" height="18.63" fill="rgba(185,25,20,0.25)"/>
<rect x="339.45" y="322.11" width="6.35" height="18.58" fill="rgba(185,25,20,0.25)"/>
<rect x="345.80" y="322.67" width="5.75" height="18.60" fill="rgba(185,25,20,0.25)"/>
<rect x="351.55" y="324.63" width="29.85" height="19.00" fill="rgba(185,25,20,0.25)"/>
<rect x="381.40" y="325.94" width="0.00" height="20.78" fill="rgba(185,25,20,0.25)"/>
<rect x="381.40" y="327.59" width="121.60" height="21.50" fill="rgba(185,25,20,0.25)"/>
<path d="M309.30,264.60H309.90V278.16H508.75" fill="none" stroke="#3f8a3c" stroke-width="1.2"/>
<path d="M309.30,264.60H310.45V267.53H311.35V270.07H312.25V272.60H313.48V275.30H315.02V278.00H316.30V280.57H317.30V283.13H318.30V285.70H319.57V288.00H321.12V290.30H323.05V294.20H324.62V297.10H325.47V300.00H327.60V303.50H330.75V305.20H333.10V308.10H338.90V308.70H344.35V312.10H351.85V312.70H359.35V316.20H360.80V319.60H361.78V321.90H361.95V324.20H362.12V326.50H362.50V328.55H363.10V330.60H421.00" fill="none" stroke="#eea030" stroke-width="1.2"/>
<path d="M309.30,264.60H309.52V266.73H309.55V268.87H309.58V271.00H309.65V273.00H309.75V275.00H309.85V277.00H309.95V279.00H310.05V281.00H310.15V283.00H310.25V285.00H310.50V287.30H310.90V289.60H311.30V291.90H311.78V294.20H312.35V296.50H312.92V298.80H313.48V300.73H314.05V302.67H314.62V304.60H316.05V306.30H318.35V309.20H319.80V310.95H320.40V312.70H321.85V313.30H323.60V316.20H324.77V317.90H325.93V319.60H326.93V321.35H327.77V323.10H329.65V323.70H331.53V325.70H332.38V327.70H334.55V328.60H337.45V329.40H339.45V331.70H345.80V332.30H351.55V334.60H381.40V337.10H381.40V339.40H503.00" fill="none" stroke="#c0223c" stroke-width="1.2"/>
<line x1="309.30" y1="255.20" x2="309.30" y2="370.10" stroke="#3a3a3a" stroke-width="1.2" />
<line x1="308.70" y1="369.50" x2="511.00" y2="369.50" stroke="#3a3a3a" stroke-width="1.2" />
<line x1="57.80" y1="403.90" x2="66.30" y2="403.90" stroke="#3f8a3c" stroke-width="1.2" />
<text x="69.20" y="406.60" font-size="7.56" text-anchor="start" fill="#2a2a2a" font-weight="normal" stroke="#2a2a2a" stroke-width="0.22" textLength="43.57" lengthAdjust="spacingAndGlyphs" >low-risk group</text>
<line x1="118.40" y1="403.90" x2="126.90" y2="403.90" stroke="#eea030" stroke-width="1.2" />
<text x="129.80" y="406.60" font-size="7.56" text-anchor="start" fill="#2a2a2a" font-weight="normal" stroke="#2a2a2a" stroke-width="0.22" textLength="44.35" lengthAdjust="spacingAndGlyphs" >mid-risk group</text>
<line x1="180.80" y1="403.90" x2="189.30" y2="403.90" stroke="#c0223c" stroke-width="1.2" />
<text x="192.20" y="406.60" font-size="7.56" text-anchor="start" fill="#2a2a2a" font-weight="normal" stroke="#2a2a2a" stroke-width="0.22" textLength="46.30" lengthAdjust="spacingAndGlyphs" >high-risk group</text>
<line x1="320.20" y1="403.90" x2="328.70" y2="403.90" stroke="#3f8a3c" stroke-width="1.2" />
<text x="331.60" y="406.60" font-size="7.56" text-anchor="start" fill="#2a2a2a" font-weight="normal" stroke="#2a2a2a" stroke-width="0.22" textLength="43.57" lengthAdjust="spacingAndGlyphs" >low-risk group</text>
<line x1="380.80" y1="403.90" x2="389.30" y2="403.90" stroke="#eea030" stroke-width="1.2" />
<text x="392.20" y="406.60" font-size="7.56" text-anchor="start" fill="#2a2a2a" font-weight="normal" stroke="#2a2a2a" stroke-width="0.22" textLength="44.35" lengthAdjust="spacingAndGlyphs" >mid-risk group</text>
<line x1="443.20" y1="403.90" x2="451.70" y2="403.90" stroke="#c0223c" stroke-width="1.2" />
<text x="454.60" y="406.60" font-size="7.56" text-anchor="start" fill="#2a2a2a" font-weight="normal" stroke="#2a2a2a" stroke-width="0.22" textLength="46.30" lengthAdjust="spacingAndGlyphs" >high-risk group</text>
<text x="6.70" y="421.40" font-size="8.10" text-anchor="start" fill="#2a2a2a" font-weight="normal" stroke="#2a2a2a" stroke-width="0.22" textLength="46.68" lengthAdjust="spacingAndGlyphs" >low-risk group</text>
<text x="39.40" y="432.90" font-size="8.10" text-anchor="end" fill="#2a2a2a" font-weight="normal" stroke="#2a2a2a" stroke-width="0.22" textLength="20.83" lengthAdjust="spacingAndGlyphs" >At risk</text>
<text x="47.00" y="432.90" font-size="8.10" text-anchor="middle" fill="#2a2a2a" font-weight="normal" stroke="#2a2a2a" stroke-width="0.22" textLength="4.17" lengthAdjust="spacingAndGlyphs" >7</text>
<text x="69.14" y="432.90" font-size="8.10" text-anchor="middle" fill="#2a2a2a" font-weight="normal" stroke="#2a2a2a" stroke-width="0.22" textLength="4.17" lengthAdjust="spacingAndGlyphs" >6</text>
<text x="91.28" y="432.90" font-size="8.10" text-anchor="middle" fill="#2a2a2a" font-weight="normal" stroke="#2a2a2a" stroke-width="0.22" textLength="4.17" lengthAdjust="spacingAndGlyphs" >5</text>
<text x="113.42" y="432.90" font-size="8.10" text-anchor="middle" fill="#2a2a2a" font-weight="normal" stroke="#2a2a2a" stroke-width="0.22" textLength="4.17" lengthAdjust="spacingAndGlyphs" >4</text>
<text x="135.56" y="432.90" font-size="8.10" text-anchor="middle" fill="#2a2a2a" font-weight="normal" stroke="#2a2a2a" stroke-width="0.22" textLength="4.17" lengthAdjust="spacingAndGlyphs" >3</text>
<text x="157.70" y="432.90" font-size="8.10" text-anchor="middle" fill="#2a2a2a" font-weight="normal" stroke="#2a2a2a" stroke-width="0.22" textLength="4.17" lengthAdjust="spacingAndGlyphs" >2</text>
<text x="179.84" y="432.90" font-size="8.10" text-anchor="middle" fill="#2a2a2a" font-weight="normal" stroke="#2a2a2a" stroke-width="0.22" textLength="4.17" lengthAdjust="spacingAndGlyphs" >2</text>
<text x="201.98" y="432.90" font-size="8.10" text-anchor="middle" fill="#2a2a2a" font-weight="normal" stroke="#2a2a2a" stroke-width="0.22" textLength="4.17" lengthAdjust="spacingAndGlyphs" >0</text>
<text x="224.12" y="432.90" font-size="8.10" text-anchor="middle" fill="#2a2a2a" font-weight="normal" stroke="#2a2a2a" stroke-width="0.22" textLength="4.17" lengthAdjust="spacingAndGlyphs" >0</text>
<text x="246.26" y="432.90" font-size="8.10" text-anchor="middle" fill="#2a2a2a" font-weight="normal" stroke="#2a2a2a" stroke-width="0.22" textLength="4.17" lengthAdjust="spacingAndGlyphs" >0</text>
<text x="39.40" y="444.40" font-size="8.10" text-anchor="end" fill="#2a2a2a" font-weight="normal" stroke="#2a2a2a" stroke-width="0.22" textLength="32.52" lengthAdjust="spacingAndGlyphs" >Censored</text>
<text x="47.00" y="444.40" font-size="8.10" text-anchor="middle" fill="#2a2a2a" font-weight="normal" stroke="#2a2a2a" stroke-width="0.22" textLength="4.17" lengthAdjust="spacingAndGlyphs" >0</text>
<text x="69.14" y="444.40" font-size="8.10" text-anchor="middle" fill="#2a2a2a" font-weight="normal" stroke="#2a2a2a" stroke-width="0.22" textLength="4.17" lengthAdjust="spacingAndGlyphs" >0</text>
<text x="91.28" y="444.40" font-size="8.10" text-anchor="middle" fill="#2a2a2a" font-weight="normal" stroke="#2a2a2a" stroke-width="0.22" textLength="4.17" lengthAdjust="spacingAndGlyphs" >0</text>
<text x="113.42" y="444.40" font-size="8.10" text-anchor="middle" fill="#2a2a2a" font-weight="normal" stroke="#2a2a2a" stroke-width="0.22" textLength="4.17" lengthAdjust="spacingAndGlyphs" >0</text>
<text x="135.56" y="444.40" font-size="8.10" text-anchor="middle" fill="#2a2a2a" font-weight="normal" stroke="#2a2a2a" stroke-width="0.22" textLength="4.17" lengthAdjust="spacingAndGlyphs" >1</text>
<text x="157.70" y="444.40" font-size="8.10" text-anchor="middle" fill="#2a2a2a" font-weight="normal" stroke="#2a2a2a" stroke-width="0.22" textLength="4.17" lengthAdjust="spacingAndGlyphs" >2</text>
<text x="179.84" y="444.40" font-size="8.10" text-anchor="middle" fill="#2a2a2a" font-weight="normal" stroke="#2a2a2a" stroke-width="0.22" textLength="4.17" lengthAdjust="spacingAndGlyphs" >2</text>
<text x="201.98" y="444.40" font-size="8.10" text-anchor="middle" fill="#2a2a2a" font-weight="normal" stroke="#2a2a2a" stroke-width="0.22" textLength="4.17" lengthAdjust="spacingAndGlyphs" >4</text>
<text x="224.12" y="444.40" font-size="8.10" text-anchor="middle" fill="#2a2a2a" font-weight="normal" stroke="#2a2a2a" stroke-width="0.22" textLength="4.17" lengthAdjust="spacingAndGlyphs" >4</text>
<text x="246.26" y="444.40" font-size="8.10" text-anchor="middle" fill="#2a2a2a" font-weight="normal" stroke="#2a2a2a" stroke-width="0.22" textLength="4.17" lengthAdjust="spacingAndGlyphs" >4</text>
<text x="39.40" y="455.90" font-size="8.10" text-anchor="end" fill="#2a2a2a" font-weight="normal" stroke="#2a2a2a" stroke-width="0.22" textLength="22.93" lengthAdjust="spacingAndGlyphs" >Events</text>
<text x="47.00" y="455.90" font-size="8.10" text-anchor="middle" fill="#2a2a2a" font-weight="normal" stroke="#2a2a2a" stroke-width="0.22" textLength="4.17" lengthAdjust="spacingAndGlyphs" >0</text>
<text x="69.14" y="455.90" font-size="8.10" text-anchor="middle" fill="#2a2a2a" font-weight="normal" stroke="#2a2a2a" stroke-width="0.22" textLength="4.17" lengthAdjust="spacingAndGlyphs" >1</text>
<text x="91.28" y="455.90" font-size="8.10" text-anchor="middle" fill="#2a2a2a" font-weight="normal" stroke="#2a2a2a" stroke-width="0.22" textLength="4.17" lengthAdjust="spacingAndGlyphs" >2</text>
<text x="113.42" y="455.90" font-size="8.10" text-anchor="middle" fill="#2a2a2a" font-weight="normal" stroke="#2a2a2a" stroke-width="0.22" textLength="4.17" lengthAdjust="spacingAndGlyphs" >3</text>
<text x="135.56" y="455.90" font-size="8.10" text-anchor="middle" fill="#2a2a2a" font-weight="normal" stroke="#2a2a2a" stroke-width="0.22" textLength="4.17" lengthAdjust="spacingAndGlyphs" >3</text>
<text x="157.70" y="455.90" font-size="8.10" text-anchor="middle" fill="#2a2a2a" font-weight="normal" stroke="#2a2a2a" stroke-width="0.22" textLength="4.17" lengthAdjust="spacingAndGlyphs" >3</text>
<text x="179.84" y="455.90" font-size="8.10" text-anchor="middle" fill="#2a2a2a" font-weight="normal" stroke="#2a2a2a" stroke-width="0.22" textLength="4.17" lengthAdjust="spacingAndGlyphs" >3</text>
<text x="201.98" y="455.90" font-size="8.10" text-anchor="middle" fill="#2a2a2a" font-weight="normal" stroke="#2a2a2a" stroke-width="0.22" textLength="4.17" lengthAdjust="spacingAndGlyphs" >3</text>
<text x="224.12" y="455.90" font-size="8.10" text-anchor="middle" fill="#2a2a2a" font-weight="normal" stroke="#2a2a2a" stroke-width="0.22" textLength="4.17" lengthAdjust="spacingAndGlyphs" >3</text>
<text x="246.26" y="455.90" font-size="8.10" text-anchor="middle" fill="#2a2a2a" font-weight="normal" stroke="#2a2a2a" stroke-width="0.22" textLength="4.17" lengthAdjust="spacingAndGlyphs" >3</text>
<text x="6.70" y="470.60" font-size="8.10" text-anchor="start" fill="#2a2a2a" font-weight="normal" stroke="#2a2a2a" stroke-width="0.22" textLength="47.51" lengthAdjust="spacingAndGlyphs" >mid-risk group</text>
<text x="39.40" y="482.10" font-size="8.10" text-anchor="end" fill="#2a2a2a" font-weight="normal" stroke="#2a2a2a" stroke-width="0.22" textLength="20.83" lengthAdjust="spacingAndGlyphs" >At risk</text>
<text x="47.00" y="482.10" font-size="8.10" text-anchor="middle" fill="#2a2a2a" font-weight="normal" stroke="#2a2a2a" stroke-width="0.22" textLength="8.34" lengthAdjust="spacingAndGlyphs" >27</text>
<text x="69.14" y="482.10" font-size="8.10" text-anchor="middle" fill="#2a2a2a" font-weight="normal" stroke="#2a2a2a" stroke-width="0.22" textLength="8.34" lengthAdjust="spacingAndGlyphs" >13</text>
<text x="91.28" y="482.10" font-size="8.10" text-anchor="middle" fill="#2a2a2a" font-weight="normal" stroke="#2a2a2a" stroke-width="0.22" textLength="4.17" lengthAdjust="spacingAndGlyphs" >8</text>
<text x="113.42" y="482.10" font-size="8.10" text-anchor="middle" fill="#2a2a2a" font-weight="normal" stroke="#2a2a2a" stroke-width="0.22" textLength="4.17" lengthAdjust="spacingAndGlyphs" >5</text>
<text x="135.56" y="482.10" font-size="8.10" text-anchor="middle" fill="#2a2a2a" font-weight="normal" stroke="#2a2a2a" stroke-width="0.22" textLength="4.17" lengthAdjust="spacingAndGlyphs" >2</text>
<text x="157.70" y="482.10" font-size="8.10" text-anchor="middle" fill="#2a2a2a" font-weight="normal" stroke="#2a2a2a" stroke-width="0.22" textLength="4.17" lengthAdjust="spacingAndGlyphs" >2</text>
<text x="179.84" y="482.10" font-size="8.10" text-anchor="middle" fill="#2a2a2a" font-weight="normal" stroke="#2a2a2a" stroke-width="0.22" textLength="4.17" lengthAdjust="spacingAndGlyphs" >2</text>
<text x="201.98" y="482.10" font-size="8.10" text-anchor="middle" fill="#2a2a2a" font-weight="normal" stroke="#2a2a2a" stroke-width="0.22" textLength="4.17" lengthAdjust="spacingAndGlyphs" >2</text>
<text x="224.12" y="482.10" font-size="8.10" text-anchor="middle" fill="#2a2a2a" font-weight="normal" stroke="#2a2a2a" stroke-width="0.22" textLength="4.17" lengthAdjust="spacingAndGlyphs" >2</text>
<text x="246.26" y="482.10" font-size="8.10" text-anchor="middle" fill="#2a2a2a" font-weight="normal" stroke="#2a2a2a" stroke-width="0.22" textLength="4.17" lengthAdjust="spacingAndGlyphs" >0</text>
<text x="39.40" y="493.60" font-size="8.10" text-anchor="end" fill="#2a2a2a" font-weight="normal" stroke="#2a2a2a" stroke-width="0.22" textLength="32.52" lengthAdjust="spacingAndGlyphs" >Censored</text>
<text x="47.00" y="493.60" font-size="8.10" text-anchor="middle" fill="#2a2a2a" font-weight="normal" stroke="#2a2a2a" stroke-width="0.22" textLength="4.17" lengthAdjust="spacingAndGlyphs" >0</text>
<text x="69.14" y="493.60" font-size="8.10" text-anchor="middle" fill="#2a2a2a" font-weight="normal" stroke="#2a2a2a" stroke-width="0.22" textLength="4.17" lengthAdjust="spacingAndGlyphs" >3</text>
<text x="91.28" y="493.60" font-size="8.10" text-anchor="middle" fill="#2a2a2a" font-weight="normal" stroke="#2a2a2a" stroke-width="0.22" textLength="4.17" lengthAdjust="spacingAndGlyphs" >4</text>
<text x="113.42" y="493.60" font-size="8.10" text-anchor="middle" fill="#2a2a2a" font-weight="normal" stroke="#2a2a2a" stroke-width="0.22" textLength="4.17" lengthAdjust="spacingAndGlyphs" >4</text>
<text x="135.56" y="493.60" font-size="8.10" text-anchor="middle" fill="#2a2a2a" font-weight="normal" stroke="#2a2a2a" stroke-width="0.22" textLength="4.17" lengthAdjust="spacingAndGlyphs" >7</text>
<text x="157.70" y="493.60" font-size="8.10" text-anchor="middle" fill="#2a2a2a" font-weight="normal" stroke="#2a2a2a" stroke-width="0.22" textLength="4.17" lengthAdjust="spacingAndGlyphs" >7</text>
<text x="179.84" y="493.60" font-size="8.10" text-anchor="middle" fill="#2a2a2a" font-weight="normal" stroke="#2a2a2a" stroke-width="0.22" textLength="4.17" lengthAdjust="spacingAndGlyphs" >7</text>
<text x="201.98" y="493.60" font-size="8.10" text-anchor="middle" fill="#2a2a2a" font-weight="normal" stroke="#2a2a2a" stroke-width="0.22" textLength="4.17" lengthAdjust="spacingAndGlyphs" >7</text>
<text x="224.12" y="493.60" font-size="8.10" text-anchor="middle" fill="#2a2a2a" font-weight="normal" stroke="#2a2a2a" stroke-width="0.22" textLength="4.17" lengthAdjust="spacingAndGlyphs" >7</text>
<text x="246.26" y="493.60" font-size="8.10" text-anchor="middle" fill="#2a2a2a" font-weight="normal" stroke="#2a2a2a" stroke-width="0.22" textLength="4.17" lengthAdjust="spacingAndGlyphs" >9</text>
<text x="39.40" y="505.10" font-size="8.10" text-anchor="end" fill="#2a2a2a" font-weight="normal" stroke="#2a2a2a" stroke-width="0.22" textLength="22.93" lengthAdjust="spacingAndGlyphs" >Events</text>
<text x="47.00" y="505.10" font-size="8.10" text-anchor="middle" fill="#2a2a2a" font-weight="normal" stroke="#2a2a2a" stroke-width="0.22" textLength="4.17" lengthAdjust="spacingAndGlyphs" >0</text>
<text x="69.14" y="505.10" font-size="8.10" text-anchor="middle" fill="#2a2a2a" font-weight="normal" stroke="#2a2a2a" stroke-width="0.22" textLength="7.79" lengthAdjust="spacingAndGlyphs" >11</text>
<text x="91.28" y="505.10" font-size="8.10" text-anchor="middle" fill="#2a2a2a" font-weight="normal" stroke="#2a2a2a" stroke-width="0.22" textLength="8.34" lengthAdjust="spacingAndGlyphs" >15</text>
<text x="113.42" y="505.10" font-size="8.10" text-anchor="middle" fill="#2a2a2a" font-weight="normal" stroke="#2a2a2a" stroke-width="0.22" textLength="8.34" lengthAdjust="spacingAndGlyphs" >18</text>
<text x="135.56" y="505.10" font-size="8.10" text-anchor="middle" fill="#2a2a2a" font-weight="normal" stroke="#2a2a2a" stroke-width="0.22" textLength="8.34" lengthAdjust="spacingAndGlyphs" >18</text>
<text x="157.70" y="505.10" font-size="8.10" text-anchor="middle" fill="#2a2a2a" font-weight="normal" stroke="#2a2a2a" stroke-width="0.22" textLength="8.34" lengthAdjust="spacingAndGlyphs" >18</text>
<text x="179.84" y="505.10" font-size="8.10" text-anchor="middle" fill="#2a2a2a" font-weight="normal" stroke="#2a2a2a" stroke-width="0.22" textLength="8.34" lengthAdjust="spacingAndGlyphs" >18</text>
<text x="201.98" y="505.10" font-size="8.10" text-anchor="middle" fill="#2a2a2a" font-weight="normal" stroke="#2a2a2a" stroke-width="0.22" textLength="8.34" lengthAdjust="spacingAndGlyphs" >18</text>
<text x="224.12" y="505.10" font-size="8.10" text-anchor="middle" fill="#2a2a2a" font-weight="normal" stroke="#2a2a2a" stroke-width="0.22" textLength="8.34" lengthAdjust="spacingAndGlyphs" >18</text>
<text x="246.26" y="505.10" font-size="8.10" text-anchor="middle" fill="#2a2a2a" font-weight="normal" stroke="#2a2a2a" stroke-width="0.22" textLength="8.34" lengthAdjust="spacingAndGlyphs" >18</text>
<text x="6.70" y="520.00" font-size="8.10" text-anchor="start" fill="#2a2a2a" font-weight="normal" stroke="#2a2a2a" stroke-width="0.22" textLength="49.61" lengthAdjust="spacingAndGlyphs" >high-risk group</text>
<text x="39.40" y="531.50" font-size="8.10" text-anchor="end" fill="#2a2a2a" font-weight="normal" stroke="#2a2a2a" stroke-width="0.22" textLength="20.83" lengthAdjust="spacingAndGlyphs" >At risk</text>
<text x="47.00" y="531.50" font-size="8.10" text-anchor="middle" fill="#2a2a2a" font-weight="normal" stroke="#2a2a2a" stroke-width="0.22" textLength="8.34" lengthAdjust="spacingAndGlyphs" >17</text>
<text x="69.14" y="531.50" font-size="8.10" text-anchor="middle" fill="#2a2a2a" font-weight="normal" stroke="#2a2a2a" stroke-width="0.22" textLength="4.17" lengthAdjust="spacingAndGlyphs" >3</text>
<text x="91.28" y="531.50" font-size="8.10" text-anchor="middle" fill="#2a2a2a" font-weight="normal" stroke="#2a2a2a" stroke-width="0.22" textLength="4.17" lengthAdjust="spacingAndGlyphs" >1</text>
<text x="113.42" y="531.50" font-size="8.10" text-anchor="middle" fill="#2a2a2a" font-weight="normal" stroke="#2a2a2a" stroke-width="0.22" textLength="4.17" lengthAdjust="spacingAndGlyphs" >1</text>
<text x="135.56" y="531.50" font-size="8.10" text-anchor="middle" fill="#2a2a2a" font-weight="normal" stroke="#2a2a2a" stroke-width="0.22" textLength="4.17" lengthAdjust="spacingAndGlyphs" >0</text>
<text x="157.70" y="531.50" font-size="8.10" text-anchor="middle" fill="#2a2a2a" font-weight="normal" stroke="#2a2a2a" stroke-width="0.22" textLength="4.17" lengthAdjust="spacingAndGlyphs" >0</text>
<text x="179.84" y="531.50" font-size="8.10" text-anchor="middle" fill="#2a2a2a" font-weight="normal" stroke="#2a2a2a" stroke-width="0.22" textLength="4.17" lengthAdjust="spacingAndGlyphs" >0</text>
<text x="201.98" y="531.50" font-size="8.10" text-anchor="middle" fill="#2a2a2a" font-weight="normal" stroke="#2a2a2a" stroke-width="0.22" textLength="4.17" lengthAdjust="spacingAndGlyphs" >0</text>
<text x="224.12" y="531.50" font-size="8.10" text-anchor="middle" fill="#2a2a2a" font-weight="normal" stroke="#2a2a2a" stroke-width="0.22" textLength="4.17" lengthAdjust="spacingAndGlyphs" >0</text>
<text x="246.26" y="531.50" font-size="8.10" text-anchor="middle" fill="#2a2a2a" font-weight="normal" stroke="#2a2a2a" stroke-width="0.22" textLength="4.17" lengthAdjust="spacingAndGlyphs" >0</text>
<text x="39.40" y="543.00" font-size="8.10" text-anchor="end" fill="#2a2a2a" font-weight="normal" stroke="#2a2a2a" stroke-width="0.22" textLength="32.52" lengthAdjust="spacingAndGlyphs" >Censored</text>
<text x="47.00" y="543.00" font-size="8.10" text-anchor="middle" fill="#2a2a2a" font-weight="normal" stroke="#2a2a2a" stroke-width="0.22" textLength="4.17" lengthAdjust="spacingAndGlyphs" >1</text>
<text x="69.14" y="543.00" font-size="8.10" text-anchor="middle" fill="#2a2a2a" font-weight="normal" stroke="#2a2a2a" stroke-width="0.22" textLength="4.17" lengthAdjust="spacingAndGlyphs" >2</text>
<text x="91.28" y="543.00" font-size="8.10" text-anchor="middle" fill="#2a2a2a" font-weight="normal" stroke="#2a2a2a" stroke-width="0.22" textLength="4.17" lengthAdjust="spacingAndGlyphs" >2</text>
<text x="113.42" y="543.00" font-size="8.10" text-anchor="middle" fill="#2a2a2a" font-weight="normal" stroke="#2a2a2a" stroke-width="0.22" textLength="4.17" lengthAdjust="spacingAndGlyphs" >2</text>
<text x="135.56" y="543.00" font-size="8.10" text-anchor="middle" fill="#2a2a2a" font-weight="normal" stroke="#2a2a2a" stroke-width="0.22" textLength="4.17" lengthAdjust="spacingAndGlyphs" >3</text>
<text x="157.70" y="543.00" font-size="8.10" text-anchor="middle" fill="#2a2a2a" font-weight="normal" stroke="#2a2a2a" stroke-width="0.22" textLength="4.17" lengthAdjust="spacingAndGlyphs" >3</text>
<text x="179.84" y="543.00" font-size="8.10" text-anchor="middle" fill="#2a2a2a" font-weight="normal" stroke="#2a2a2a" stroke-width="0.22" textLength="4.17" lengthAdjust="spacingAndGlyphs" >3</text>
<text x="201.98" y="543.00" font-size="8.10" text-anchor="middle" fill="#2a2a2a" font-weight="normal" stroke="#2a2a2a" stroke-width="0.22" textLength="4.17" lengthAdjust="spacingAndGlyphs" >3</text>
<text x="224.12" y="543.00" font-size="8.10" text-anchor="middle" fill="#2a2a2a" font-weight="normal" stroke="#2a2a2a" stroke-width="0.22" textLength="4.17" lengthAdjust="spacingAndGlyphs" >3</text>
<text x="246.26" y="543.00" font-size="8.10" text-anchor="middle" fill="#2a2a2a" font-weight="normal" stroke="#2a2a2a" stroke-width="0.22" textLength="4.17" lengthAdjust="spacingAndGlyphs" >3</text>
<text x="39.40" y="554.50" font-size="8.10" text-anchor="end" fill="#2a2a2a" font-weight="normal" stroke="#2a2a2a" stroke-width="0.22" textLength="22.93" lengthAdjust="spacingAndGlyphs" >Events</text>
<text x="47.00" y="554.50" font-size="8.10" text-anchor="middle" fill="#2a2a2a" font-weight="normal" stroke="#2a2a2a" stroke-width="0.22" textLength="4.17" lengthAdjust="spacingAndGlyphs" >0</text>
<text x="69.14" y="554.50" font-size="8.10" text-anchor="middle" fill="#2a2a2a" font-weight="normal" stroke="#2a2a2a" stroke-width="0.22" textLength="8.34" lengthAdjust="spacingAndGlyphs" >13</text>
<text x="91.28" y="554.50" font-size="8.10" text-anchor="middle" fill="#2a2a2a" font-weight="normal" stroke="#2a2a2a" stroke-width="0.22" textLength="8.34" lengthAdjust="spacingAndGlyphs" >15</text>
<text x="113.42" y="554.50" font-size="8.10" text-anchor="middle" fill="#2a2a2a" font-weight="normal" stroke="#2a2a2a" stroke-width="0.22" textLength="8.34" lengthAdjust="spacingAndGlyphs" >15</text>
<text x="135.56" y="554.50" font-size="8.10" text-anchor="middle" fill="#2a2a2a" font-weight="normal" stroke="#2a2a2a" stroke-width="0.22" textLength="8.34" lengthAdjust="spacingAndGlyphs" >15</text>
<text x="157.70" y="554.50" font-size="8.10" text-anchor="middle" fill="#2a2a2a" font-weight="normal" stroke="#2a2a2a" stroke-width="0.22" textLength="8.34" lengthAdjust="spacingAndGlyphs" >15</text>
<text x="179.84" y="554.50" font-size="8.10" text-anchor="middle" fill="#2a2a2a" font-weight="normal" stroke="#2a2a2a" stroke-width="0.22" textLength="8.34" lengthAdjust="spacingAndGlyphs" >15</text>
<text x="201.98" y="554.50" font-size="8.10" text-anchor="middle" fill="#2a2a2a" font-weight="normal" stroke="#2a2a2a" stroke-width="0.22" textLength="8.34" lengthAdjust="spacingAndGlyphs" >15</text>
<text x="224.12" y="554.50" font-size="8.10" text-anchor="middle" fill="#2a2a2a" font-weight="normal" stroke="#2a2a2a" stroke-width="0.22" textLength="8.34" lengthAdjust="spacingAndGlyphs" >15</text>
<text x="246.26" y="554.50" font-size="8.10" text-anchor="middle" fill="#2a2a2a" font-weight="normal" stroke="#2a2a2a" stroke-width="0.22" textLength="8.34" lengthAdjust="spacingAndGlyphs" >15</text>
<text x="268.70" y="421.40" font-size="8.10" text-anchor="start" fill="#2a2a2a" font-weight="normal" stroke="#2a2a2a" stroke-width="0.22" textLength="46.68" lengthAdjust="spacingAndGlyphs" >low-risk group</text>
<text x="301.30" y="432.90" font-size="8.10" text-anchor="end" fill="#2a2a2a" font-weight="normal" stroke="#2a2a2a" stroke-width="0.22" textLength="20.83" lengthAdjust="spacingAndGlyphs" >At risk</text>
<text x="309.30" y="432.90" font-size="8.10" text-anchor="middle" fill="#2a2a2a" font-weight="normal" stroke="#2a2a2a" stroke-width="0.22" textLength="4.17" lengthAdjust="spacingAndGlyphs" >7</text>
<text x="331.46" y="432.90" font-size="8.10" text-anchor="middle" fill="#2a2a2a" font-weight="normal" stroke="#2a2a2a" stroke-width="0.22" textLength="4.17" lengthAdjust="spacingAndGlyphs" >5</text>
<text x="353.62" y="432.90" font-size="8.10" text-anchor="middle" fill="#2a2a2a" font-weight="normal" stroke="#2a2a2a" stroke-width="0.22" textLength="4.17" lengthAdjust="spacingAndGlyphs" >2</text>
<text x="375.78" y="432.90" font-size="8.10" text-anchor="middle" fill="#2a2a2a" font-weight="normal" stroke="#2a2a2a" stroke-width="0.22" textLength="4.17" lengthAdjust="spacingAndGlyphs" >1</text>
<text x="397.94" y="432.90" font-size="8.10" text-anchor="middle" fill="#2a2a2a" font-weight="normal" stroke="#2a2a2a" stroke-width="0.22" textLength="4.17" lengthAdjust="spacingAndGlyphs" >1</text>
<text x="420.10" y="432.90" font-size="8.10" text-anchor="middle" fill="#2a2a2a" font-weight="normal" stroke="#2a2a2a" stroke-width="0.22" textLength="4.17" lengthAdjust="spacingAndGlyphs" >1</text>
<text x="442.26" y="432.90" font-size="8.10" text-anchor="middle" fill="#2a2a2a" font-weight="normal" stroke="#2a2a2a" stroke-width="0.22" textLength="4.17" lengthAdjust="spacingAndGlyphs" >1</text>
<text x="464.42" y="432.90" font-size="8.10" text-anchor="middle" fill="#2a2a2a" font-weight="normal" stroke="#2a2a2a" stroke-width="0.22" textLength="4.17" lengthAdjust="spacingAndGlyphs" >1</text>
<text x="486.58" y="432.90" font-size="8.10" text-anchor="middle" fill="#2a2a2a" font-weight="normal" stroke="#2a2a2a" stroke-width="0.22" textLength="4.17" lengthAdjust="spacingAndGlyphs" >1</text>
<text x="508.74" y="432.90" font-size="8.10" text-anchor="middle" fill="#2a2a2a" font-weight="normal" stroke="#2a2a2a" stroke-width="0.22" textLength="4.17" lengthAdjust="spacingAndGlyphs" >1</text>
<text x="301.30" y="444.40" font-size="8.10" text-anchor="end" fill="#2a2a2a" font-weight="normal" stroke="#2a2a2a" stroke-width="0.22" textLength="32.52" lengthAdjust="spacingAndGlyphs" >Censored</text>
<text x="309.30" y="444.40" font-size="8.10" text-anchor="middle" fill="#2a2a2a" font-weight="normal" stroke="#2a2a2a" stroke-width="0.22" textLength="4.17" lengthAdjust="spacingAndGlyphs" >0</text>
<text x="331.46" y="444.40" font-size="8.10" text-anchor="middle" fill="#2a2a2a" font-weight="normal" stroke="#2a2a2a" stroke-width="0.22" textLength="4.17" lengthAdjust="spacingAndGlyphs" >1</text>
<text x="353.62" y="444.40" font-size="8.10" text-anchor="middle" fill="#2a2a2a" font-weight="normal" stroke="#2a2a2a" stroke-width="0.22" textLength="4.17" lengthAdjust="spacingAndGlyphs" >4</text>
<text x="375.78" y="444.40" font-size="8.10" text-anchor="middle" fill="#2a2a2a" font-weight="normal" stroke="#2a2a2a" stroke-width="0.22" textLength="4.17" lengthAdjust="spacingAndGlyphs" >5</text>
<text x="397.94" y="444.40" font-size="8.10" text-anchor="middle" fill="#2a2a2a" font-weight="normal" stroke="#2a2a2a" stroke-width="0.22" textLength="4.17" lengthAdjust="spacingAndGlyphs" >5</text>
<text x="420.10" y="444.40" font-size="8.10" text-anchor="middle" fill="#2a2a2a" font-weight="normal" stroke="#2a2a2a" stroke-width="0.22" textLength="4.17" lengthAdjust="spacingAndGlyphs" >5</text>
<text x="442.26" y="444.40" font-size="8.10" text-anchor="middle" fill="#2a2a2a" font-weight="normal" stroke="#2a2a2a" stroke-width="0.22" textLength="4.17" lengthAdjust="spacingAndGlyphs" >5</text>
<text x="464.42" y="444.40" font-size="8.10" text-anchor="middle" fill="#2a2a2a" font-weight="normal" stroke="#2a2a2a" stroke-width="0.22" textLength="4.17" lengthAdjust="spacingAndGlyphs" >5</text>
<text x="486.58" y="444.40" font-size="8.10" text-anchor="middle" fill="#2a2a2a" font-weight="normal" stroke="#2a2a2a" stroke-width="0.22" textLength="4.17" lengthAdjust="spacingAndGlyphs" >5</text>
<text x="508.74" y="444.40" font-size="8.10" text-anchor="middle" fill="#2a2a2a" font-weight="normal" stroke="#2a2a2a" stroke-width="0.22" textLength="4.17" lengthAdjust="spacingAndGlyphs" >5</text>
<text x="301.30" y="455.90" font-size="8.10" text-anchor="end" fill="#2a2a2a" font-weight="normal" stroke="#2a2a2a" stroke-width="0.22" textLength="22.93" lengthAdjust="spacingAndGlyphs" >Events</text>
<text x="309.30" y="455.90" font-size="8.10" text-anchor="middle" fill="#2a2a2a" font-weight="normal" stroke="#2a2a2a" stroke-width="0.22" textLength="4.17" lengthAdjust="spacingAndGlyphs" >0</text>
<text x="331.46" y="455.90" font-size="8.10" text-anchor="middle" fill="#2a2a2a" font-weight="normal" stroke="#2a2a2a" stroke-width="0.22" textLength="4.17" lengthAdjust="spacingAndGlyphs" >1</text>
<text x="353.62" y="455.90" font-size="8.10" text-anchor="middle" fill="#2a2a2a" font-weight="normal" stroke="#2a2a2a" stroke-width="0.22" textLength="4.17" lengthAdjust="spacingAndGlyphs" >1</text>
<text x="375.78" y="455.90" font-size="8.10" text-anchor="middle" fill="#2a2a2a" font-weight="normal" stroke="#2a2a2a" stroke-width="0.22" textLength="4.17" lengthAdjust="spacingAndGlyphs" >1</text>
<text x="397.94" y="455.90" font-size="8.10" text-anchor="middle" fill="#2a2a2a" font-weight="normal" stroke="#2a2a2a" stroke-width="0.22" textLength="4.17" lengthAdjust="spacingAndGlyphs" >1</text>
<text x="420.10" y="455.90" font-size="8.10" text-anchor="middle" fill="#2a2a2a" font-weight="normal" stroke="#2a2a2a" stroke-width="0.22" textLength="4.17" lengthAdjust="spacingAndGlyphs" >1</text>
<text x="442.26" y="455.90" font-size="8.10" text-anchor="middle" fill="#2a2a2a" font-weight="normal" stroke="#2a2a2a" stroke-width="0.22" textLength="4.17" lengthAdjust="spacingAndGlyphs" >1</text>
<text x="464.42" y="455.90" font-size="8.10" text-anchor="middle" fill="#2a2a2a" font-weight="normal" stroke="#2a2a2a" stroke-width="0.22" textLength="4.17" lengthAdjust="spacingAndGlyphs" >1</text>
<text x="486.58" y="455.90" font-size="8.10" text-anchor="middle" fill="#2a2a2a" font-weight="normal" stroke="#2a2a2a" stroke-width="0.22" textLength="4.17" lengthAdjust="spacingAndGlyphs" >1</text>
<text x="508.74" y="455.90" font-size="8.10" text-anchor="middle" fill="#2a2a2a" font-weight="normal" stroke="#2a2a2a" stroke-width="0.22" textLength="4.17" lengthAdjust="spacingAndGlyphs" >1</text>
<text x="268.70" y="470.60" font-size="8.10" text-anchor="start" fill="#2a2a2a" font-weight="normal" stroke="#2a2a2a" stroke-width="0.22" textLength="47.51" lengthAdjust="spacingAndGlyphs" >mid-risk group</text>
<text x="301.30" y="482.10" font-size="8.10" text-anchor="end" fill="#2a2a2a" font-weight="normal" stroke="#2a2a2a" stroke-width="0.22" textLength="20.83" lengthAdjust="spacingAndGlyphs" >At risk</text>
<text x="309.30" y="482.10" font-size="8.10" text-anchor="middle" fill="#2a2a2a" font-weight="normal" stroke="#2a2a2a" stroke-width="0.22" textLength="8.34" lengthAdjust="spacingAndGlyphs" >58</text>
<text x="331.46" y="482.10" font-size="8.10" text-anchor="middle" fill="#2a2a2a" font-weight="normal" stroke="#2a2a2a" stroke-width="0.22" textLength="8.34" lengthAdjust="spacingAndGlyphs" >18</text>
<text x="353.62" y="482.10" font-size="8.10" text-anchor="middle" fill="#2a2a2a" font-weight="normal" stroke="#2a2a2a" stroke-width="0.22" textLength="8.34" lengthAdjust="spacingAndGlyphs" >10</text>
<text x="375.78" y="482.10" font-size="8.10" text-anchor="middle" fill="#2a2a2a" font-weight="normal" stroke="#2a2a2a" stroke-width="0.22" textLength="4.17" lengthAdjust="spacingAndGlyphs" >3</text>
<text x="397.94" y="482.10" font-size="8.10" text-anchor="middle" fill="#2a2a2a" font-weight="normal" stroke="#2a2a2a" stroke-width="0.22" textLength="4.17" lengthAdjust="spacingAndGlyphs" >1</text>
<text x="420.10" y="482.10" font-size="8.10" text-anchor="middle" fill="#2a2a2a" font-weight="normal" stroke="#2a2a2a" stroke-width="0.22" textLength="4.17" lengthAdjust="spacingAndGlyphs" >1</text>
<text x="442.26" y="482.10" font-size="8.10" text-anchor="middle" fill="#2a2a2a" font-weight="normal" stroke="#2a2a2a" stroke-width="0.22" textLength="4.17" lengthAdjust="spacingAndGlyphs" >0</text>
<text x="464.42" y="482.10" font-size="8.10" text-anchor="middle" fill="#2a2a2a" font-weight="normal" stroke="#2a2a2a" stroke-width="0.22" textLength="4.17" lengthAdjust="spacingAndGlyphs" >0</text>
<text x="486.58" y="482.10" font-size="8.10" text-anchor="middle" fill="#2a2a2a" font-weight="normal" stroke="#2a2a2a" stroke-width="0.22" textLength="4.17" lengthAdjust="spacingAndGlyphs" >0</text>
<text x="508.74" y="482.10" font-size="8.10" text-anchor="middle" fill="#2a2a2a" font-weight="normal" stroke="#2a2a2a" stroke-width="0.22" textLength="4.17" lengthAdjust="spacingAndGlyphs" >0</text>
<text x="301.30" y="493.60" font-size="8.10" text-anchor="end" fill="#2a2a2a" font-weight="normal" stroke="#2a2a2a" stroke-width="0.22" textLength="32.52" lengthAdjust="spacingAndGlyphs" >Censored</text>
<text x="309.30" y="493.60" font-size="8.10" text-anchor="middle" fill="#2a2a2a" font-weight="normal" stroke="#2a2a2a" stroke-width="0.22" textLength="4.17" lengthAdjust="spacingAndGlyphs" >1</text>
<text x="331.46" y="493.60" font-size="8.10" text-anchor="middle" fill="#2a2a2a" font-weight="normal" stroke="#2a2a2a" stroke-width="0.22" textLength="8.34" lengthAdjust="spacingAndGlyphs" >21</text>
<text x="353.62" y="493.60" font-size="8.10" text-anchor="middle" fill="#2a2a2a" font-weight="normal" stroke="#2a2a2a" stroke-width="0.22" textLength="8.34" lengthAdjust="spacingAndGlyphs" >27</text>
<text x="375.78" y="493.60" font-size="8.10" text-anchor="middle" fill="#2a2a2a" font-weight="normal" stroke="#2a2a2a" stroke-width="0.22" textLength="8.34" lengthAdjust="spacingAndGlyphs" >31</text>
<text x="397.94" y="493.60" font-size="8.10" text-anchor="middle" fill="#2a2a2a" font-weight="normal" stroke="#2a2a2a" stroke-width="0.22" textLength="8.34" lengthAdjust="spacingAndGlyphs" >33</text>
<text x="420.10" y="493.60" font-size="8.10" text-anchor="middle" fill="#2a2a2a" font-weight="normal" stroke="#2a2a2a" stroke-width="0.22" textLength="8.34" lengthAdjust="spacingAndGlyphs" >33</text>
<text x="442.26" y="493.60" font-size="8.10" text-anchor="middle" fill="#2a2a2a" font-weight="normal" stroke="#2a2a2a" stroke-width="0.22" textLength="8.34" lengthAdjust="spacingAndGlyphs" >34</text>
<text x="464.42" y="493.60" font-size="8.10" text-anchor="middle" fill="#2a2a2a" font-weight="normal" stroke="#2a2a2a" stroke-width="0.22" textLength="8.34" lengthAdjust="spacingAndGlyphs" >34</text>
<text x="486.58" y="493.60" font-size="8.10" text-anchor="middle" fill="#2a2a2a" font-weight="normal" stroke="#2a2a2a" stroke-width="0.22" textLength="8.34" lengthAdjust="spacingAndGlyphs" >34</text>
<text x="508.74" y="493.60" font-size="8.10" text-anchor="middle" fill="#2a2a2a" font-weight="normal" stroke="#2a2a2a" stroke-width="0.22" textLength="8.34" lengthAdjust="spacingAndGlyphs" >34</text>
<text x="301.30" y="505.10" font-size="8.10" text-anchor="end" fill="#2a2a2a" font-weight="normal" stroke="#2a2a2a" stroke-width="0.22" textLength="22.93" lengthAdjust="spacingAndGlyphs" >Events</text>
<text x="309.30" y="505.10" font-size="8.10" text-anchor="middle" fill="#2a2a2a" font-weight="normal" stroke="#2a2a2a" stroke-width="0.22" textLength="4.17" lengthAdjust="spacingAndGlyphs" >1</text>
<text x="331.46" y="505.10" font-size="8.10" text-anchor="middle" fill="#2a2a2a" font-weight="normal" stroke="#2a2a2a" stroke-width="0.22" textLength="8.34" lengthAdjust="spacingAndGlyphs" >21</text>
<text x="353.62" y="505.10" font-size="8.10" text-anchor="middle" fill="#2a2a2a" font-weight="normal" stroke="#2a2a2a" stroke-width="0.22" textLength="8.34" lengthAdjust="spacingAndGlyphs" >23</text>
<text x="375.78" y="505.10" font-size="8.10" text-anchor="middle" fill="#2a2a2a" font-weight="normal" stroke="#2a2a2a" stroke-width="0.22" textLength="8.34" lengthAdjust="spacingAndGlyphs" >26</text>
<text x="397.94" y="505.10" font-size="8.10" text-anchor="middle" fill="#2a2a2a" font-weight="normal" stroke="#2a2a2a" stroke-width="0.22" textLength="8.34" lengthAdjust="spacingAndGlyphs" >26</text>
<text x="420.10" y="505.10" font-size="8.10" text-anchor="middle" fill="#2a2a2a" font-weight="normal" stroke="#2a2a2a" stroke-width="0.22" textLength="8.34" lengthAdjust="spacingAndGlyphs" >26</text>
<text x="442.26" y="505.10" font-size="8.10" text-anchor="middle" fill="#2a2a2a" font-weight="normal" stroke="#2a2a2a" stroke-width="0.22" textLength="8.34" lengthAdjust="spacingAndGlyphs" >26</text>
<text x="464.42" y="505.10" font-size="8.10" text-anchor="middle" fill="#2a2a2a" font-weight="normal" stroke="#2a2a2a" stroke-width="0.22" textLength="8.34" lengthAdjust="spacingAndGlyphs" >26</text>
<text x="486.58" y="505.10" font-size="8.10" text-anchor="middle" fill="#2a2a2a" font-weight="normal" stroke="#2a2a2a" stroke-width="0.22" textLength="8.34" lengthAdjust="spacingAndGlyphs" >26</text>
<text x="508.74" y="505.10" font-size="8.10" text-anchor="middle" fill="#2a2a2a" font-weight="normal" stroke="#2a2a2a" stroke-width="0.22" textLength="8.34" lengthAdjust="spacingAndGlyphs" >26</text>
<text x="268.70" y="520.00" font-size="8.10" text-anchor="start" fill="#2a2a2a" font-weight="normal" stroke="#2a2a2a" stroke-width="0.22" textLength="49.61" lengthAdjust="spacingAndGlyphs" >high-risk group</text>
<text x="301.30" y="531.50" font-size="8.10" text-anchor="end" fill="#2a2a2a" font-weight="normal" stroke="#2a2a2a" stroke-width="0.22" textLength="20.83" lengthAdjust="spacingAndGlyphs" >At risk</text>
<text x="309.30" y="531.50" font-size="8.10" text-anchor="middle" fill="#2a2a2a" font-weight="normal" stroke="#2a2a2a" stroke-width="0.22" textLength="8.34" lengthAdjust="spacingAndGlyphs" >74</text>
<text x="331.46" y="531.50" font-size="8.10" text-anchor="middle" fill="#2a2a2a" font-weight="normal" stroke="#2a2a2a" stroke-width="0.22" textLength="8.34" lengthAdjust="spacingAndGlyphs" >23</text>
<text x="353.62" y="531.50" font-size="8.10" text-anchor="middle" fill="#2a2a2a" font-weight="normal" stroke="#2a2a2a" stroke-width="0.22" textLength="8.34" lengthAdjust="spacingAndGlyphs" >10</text>
<text x="375.78" y="531.50" font-size="8.10" text-anchor="middle" fill="#2a2a2a" font-weight="normal" stroke="#2a2a2a" stroke-width="0.22" textLength="4.17" lengthAdjust="spacingAndGlyphs" >6</text>
<text x="397.94" y="531.50" font-size="8.10" text-anchor="middle" fill="#2a2a2a" font-weight="normal" stroke="#2a2a2a" stroke-width="0.22" textLength="4.17" lengthAdjust="spacingAndGlyphs" >4</text>
<text x="420.10" y="531.50" font-size="8.10" text-anchor="middle" fill="#2a2a2a" font-weight="normal" stroke="#2a2a2a" stroke-width="0.22" textLength="4.17" lengthAdjust="spacingAndGlyphs" >2</text>
<text x="442.26" y="531.50" font-size="8.10" text-anchor="middle" fill="#2a2a2a" font-weight="normal" stroke="#2a2a2a" stroke-width="0.22" textLength="4.17" lengthAdjust="spacingAndGlyphs" >2</text>
<text x="464.42" y="531.50" font-size="8.10" text-anchor="middle" fill="#2a2a2a" font-weight="normal" stroke="#2a2a2a" stroke-width="0.22" textLength="4.17" lengthAdjust="spacingAndGlyphs" >2</text>
<text x="486.58" y="531.50" font-size="8.10" text-anchor="middle" fill="#2a2a2a" font-weight="normal" stroke="#2a2a2a" stroke-width="0.22" textLength="4.17" lengthAdjust="spacingAndGlyphs" >1</text>
<text x="508.74" y="531.50" font-size="8.10" text-anchor="middle" fill="#2a2a2a" font-weight="normal" stroke="#2a2a2a" stroke-width="0.22" textLength="4.17" lengthAdjust="spacingAndGlyphs" >0</text>
<text x="301.30" y="543.00" font-size="8.10" text-anchor="end" fill="#2a2a2a" font-weight="normal" stroke="#2a2a2a" stroke-width="0.22" textLength="32.52" lengthAdjust="spacingAndGlyphs" >Censored</text>
<text x="309.30" y="543.00" font-size="8.10" text-anchor="middle" fill="#2a2a2a" font-weight="normal" stroke="#2a2a2a" stroke-width="0.22" textLength="4.17" lengthAdjust="spacingAndGlyphs" >1</text>
<text x="331.46" y="543.00" font-size="8.10" text-anchor="middle" fill="#2a2a2a" font-weight="normal" stroke="#2a2a2a" stroke-width="0.22" textLength="8.34" lengthAdjust="spacingAndGlyphs" >10</text>
<text x="353.62" y="543.00" font-size="8.10" text-anchor="middle" fill="#2a2a2a" font-weight="normal" stroke="#2a2a2a" stroke-width="0.22" textLength="8.34" lengthAdjust="spacingAndGlyphs" >17</text>
<text x="375.78" y="543.00" font-size="8.10" text-anchor="middle" fill="#2a2a2a" font-weight="normal" stroke="#2a2a2a" stroke-width="0.22" textLength="8.34" lengthAdjust="spacingAndGlyphs" >21</text>
<text x="397.94" y="543.00" font-size="8.10" text-anchor="middle" fill="#2a2a2a" font-weight="normal" stroke="#2a2a2a" stroke-width="0.22" textLength="8.34" lengthAdjust="spacingAndGlyphs" >22</text>
<text x="420.10" y="543.00" font-size="8.10" text-anchor="middle" fill="#2a2a2a" font-weight="normal" stroke="#2a2a2a" stroke-width="0.22" textLength="8.34" lengthAdjust="spacingAndGlyphs" >24</text>
<text x="442.26" y="543.00" font-size="8.10" text-anchor="middle" fill="#2a2a2a" font-weight="normal" stroke="#2a2a2a" stroke-width="0.22" textLength="8.34" lengthAdjust="spacingAndGlyphs" >24</text>
<text x="464.42" y="543.00" font-size="8.10" text-anchor="middle" fill="#2a2a2a" font-weight="normal" stroke="#2a2a2a" stroke-width="0.22" textLength="8.34" lengthAdjust="spacingAndGlyphs" >24</text>
<text x="486.58" y="543.00" font-size="8.10" text-anchor="middle" fill="#2a2a2a" font-weight="normal" stroke="#2a2a2a" stroke-width="0.22" textLength="8.34" lengthAdjust="spacingAndGlyphs" >25</text>
<text x="508.74" y="543.00" font-size="8.10" text-anchor="middle" fill="#2a2a2a" font-weight="normal" stroke="#2a2a2a" stroke-width="0.22" textLength="8.34" lengthAdjust="spacingAndGlyphs" >26</text>
<text x="301.30" y="554.50" font-size="8.10" text-anchor="end" fill="#2a2a2a" font-weight="normal" stroke="#2a2a2a" stroke-width="0.22" textLength="22.93" lengthAdjust="spacingAndGlyphs" >Events</text>
<text x="309.30" y="554.50" font-size="8.10" text-anchor="middle" fill="#2a2a2a" font-weight="normal" stroke="#2a2a2a" stroke-width="0.22" textLength="4.17" lengthAdjust="spacingAndGlyphs" >5</text>
<text x="331.46" y="554.50" font-size="8.10" text-anchor="middle" fill="#2a2a2a" font-weight="normal" stroke="#2a2a2a" stroke-width="0.22" textLength="8.34" lengthAdjust="spacingAndGlyphs" >47</text>
<text x="353.62" y="554.50" font-size="8.10" text-anchor="middle" fill="#2a2a2a" font-weight="normal" stroke="#2a2a2a" stroke-width="0.22" textLength="8.34" lengthAdjust="spacingAndGlyphs" >53</text>
<text x="375.78" y="554.50" font-size="8.10" text-anchor="middle" fill="#2a2a2a" font-weight="normal" stroke="#2a2a2a" stroke-width="0.22" textLength="8.34" lengthAdjust="spacingAndGlyphs" >53</text>
<text x="397.94" y="554.50" font-size="8.10" text-anchor="middle" fill="#2a2a2a" font-weight="normal" stroke="#2a2a2a" stroke-width="0.22" textLength="8.34" lengthAdjust="spacingAndGlyphs" >54</text>
<text x="420.10" y="554.50" font-size="8.10" text-anchor="middle" fill="#2a2a2a" font-weight="normal" stroke="#2a2a2a" stroke-width="0.22" textLength="8.34" lengthAdjust="spacingAndGlyphs" >54</text>
<text x="442.26" y="554.50" font-size="8.10" text-anchor="middle" fill="#2a2a2a" font-weight="normal" stroke="#2a2a2a" stroke-width="0.22" textLength="8.34" lengthAdjust="spacingAndGlyphs" >54</text>
<text x="464.42" y="554.50" font-size="8.10" text-anchor="middle" fill="#2a2a2a" font-weight="normal" stroke="#2a2a2a" stroke-width="0.22" textLength="8.34" lengthAdjust="spacingAndGlyphs" >54</text>
<text x="486.58" y="554.50" font-size="8.10" text-anchor="middle" fill="#2a2a2a" font-weight="normal" stroke="#2a2a2a" stroke-width="0.22" textLength="8.34" lengthAdjust="spacingAndGlyphs" >54</text>
<text x="508.74" y="554.50" font-size="8.10" text-anchor="middle" fill="#2a2a2a" font-weight="normal" stroke="#2a2a2a" stroke-width="0.22" textLength="8.34" lengthAdjust="spacingAndGlyphs" >54</text>
<rect x="0" y="0" width="1.15" height="563" fill="#555"/>
<rect x="0" y="0" width="520" height="1.0" fill="#5a5a5a"/>
<rect x="0" y="561.8" width="520" height="1.2" fill="#4a4a4a"/>
<rect x="518.8" y="0" width="1.2" height="563" fill="#6a6a6a"/>
</svg>
</body></html>
